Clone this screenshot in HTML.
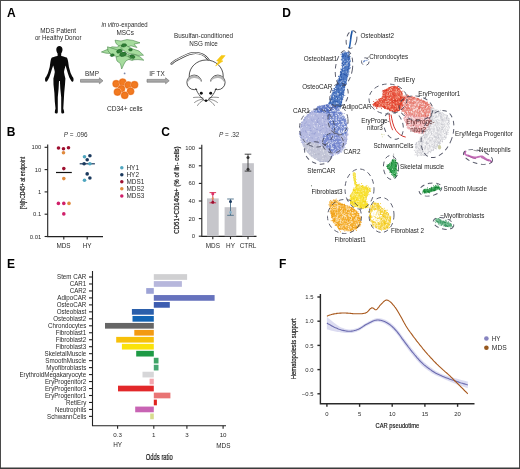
<!DOCTYPE html>
<html><head><meta charset="utf-8"><title>Figure</title>
<style>
html,body{margin:0;padding:0;background:#fff;}
body{width:520px;height:469px;overflow:hidden;}
svg{display:block;filter:blur(0.3px);}
text{font-family:"Liberation Sans",sans-serif;}
</style></head><body>
<svg width="520" height="469" viewBox="0 0 520 469" font-family="Liberation Sans, sans-serif">
<rect width="520" height="469" fill="#fff"/>
<path d="M0,0.5 H520 M0.5,0 V469 M519.5,0 V469" stroke="#4a4a4a" stroke-width="1"/>
<path d="M0,468.25 H520" stroke="#3a3a3a" stroke-width="1.5"/>
<text x="7.0" y="16.6" font-size="12" text-anchor="start" fill="#000" font-weight="bold" font-style="normal" >A</text>
<text x="6.7" y="135.6" font-size="12" text-anchor="start" fill="#000" font-weight="bold" font-style="normal" >B</text>
<text x="161.3" y="135.7" font-size="12" text-anchor="start" fill="#000" font-weight="bold" font-style="normal" >C</text>
<text x="282.3" y="16.7" font-size="12" text-anchor="start" fill="#000" font-weight="bold" font-style="normal" >D</text>
<text x="7.0" y="267.6" font-size="12" text-anchor="start" fill="#000" font-weight="bold" font-style="normal" >E</text>
<text x="279.0" y="267.6" font-size="12" text-anchor="start" fill="#000" font-weight="bold" font-style="normal" >F</text>
<text x="58.2" y="32.8" font-size="6.4" text-anchor="middle" fill="#2a2a2a" font-weight="normal" font-style="normal" >MDS Patient</text>
<text x="58.2" y="40.2" font-size="6.4" text-anchor="middle" fill="#2a2a2a" font-weight="normal" font-style="normal" textLength="46.5" lengthAdjust="spacingAndGlyphs">or Healthy Donor</text>
<text x="101.4" y="27.4" font-size="6.4" text-anchor="start" fill="#2a2a2a" font-weight="normal" font-style="normal" textLength="46.3" lengthAdjust="spacingAndGlyphs"><tspan font-style="italic">in vitro</tspan>-expanded</text>
<text x="125.2" y="34.8" font-size="6.4" text-anchor="middle" fill="#2a2a2a" font-weight="normal" font-style="normal" >MSCs</text>
<text x="92" y="75.8" font-size="6.4" text-anchor="middle" fill="#2a2a2a" font-weight="normal" font-style="normal" >BMP</text>
<text x="157" y="75.8" font-size="6.4" text-anchor="middle" fill="#2a2a2a" font-weight="normal" font-style="normal" >IF TX</text>
<text x="124.8" y="110.8" font-size="6.6" text-anchor="middle" fill="#2a2a2a" font-weight="normal" font-style="normal" >CD34+ cells</text>
<text x="203.5" y="38.4" font-size="6.3" text-anchor="middle" fill="#2a2a2a" font-weight="normal" font-style="normal" >Busulfan-conditioned</text>
<text x="203.5" y="45.8" font-size="6.3" text-anchor="middle" fill="#2a2a2a" font-weight="normal" font-style="normal" >NSG mice</text>
<path fill="#0a0a0a" d="M59.4,46.1 C61.2,46.1 62.5,47.5 62.5,49.5 C62.5,51.2 61.8,52.6 61.2,53.4 L61.2,55.9 C63,56.3 65.5,56.8 66.7,57.6 C67.5,58.3 67.8,60 68.2,62 L68.9,67 L70.6,73 L72.3,76.5 C73.2,77.3 73.8,78.5 73.5,80.5 C73.2,82 72,82.2 71.3,81 C70.6,80 70,79 69.3,77.6 L68,73.8 L66.7,69.6 L65.6,65.5 C65.2,67 64.3,69.5 64,72.1 C64.3,74.5 64.8,76.5 65.4,78.5 L65,84.5 L64.2,93 L63.7,101.6 L63.3,108.4 C63.8,110 64.3,111.5 64.2,112.8 C63.8,113.8 62,113.8 61.4,113 L61.2,111.8 L61.2,105.8 L61.2,97.3 L60.3,88.8 L59.9,81 L59,81 L58.6,88.8 L57.8,97.3 L57.8,105.8 L57.8,111.8 L57.6,113 C57,113.8 55.2,113.8 54.8,112.8 C54.7,111.5 55,110 55.5,108.4 L54.8,101.6 L54.4,93 L53.5,84.5 L53.4,78.5 C54,76.5 54.5,74.5 54.8,72.1 C54.5,69.5 53.6,67 53.2,65.5 L51.8,69.6 L50.5,73.8 L49.2,77.6 C48.6,79 48,80 47.3,81 C46.6,82.2 45.4,82 45.1,80.5 C44.8,78.5 45.4,77.3 46.3,76.5 L48,73 L49.7,67 L50.4,62 C50.8,60 51.1,58.3 51.9,57.6 C53.1,56.8 55.6,56.3 57.6,55.9 L57.6,53.4 C57,52.6 56.3,51.2 56.3,49.5 C56.3,47.5 57.6,46.1 59.4,46.1Z"/>
<path d="M80.5,79.39999999999999 L99.4,79.39999999999999 L99.4,77.8 L103,80.8 L99.4,83.8 L99.4,82.2 L80.5,82.2Z" fill="#a8a8a8" stroke="#707070" stroke-width="0.6"/>
<path d="M147,79.39999999999999 L165.6,79.39999999999999 L165.6,77.8 L169.2,80.8 L165.6,83.8 L165.6,82.2 L147,82.2Z" fill="#a8a8a8" stroke="#707070" stroke-width="0.6"/>
<path d="M115,40.2 L121,41 L127,39.6 L133,40.4 L140,42.8 L134,44.2 L137,47.5 L131,45.8 L125,47.8 L119,46 L116,43.5Z" fill="#a6dc9e" stroke="#3f7f40" stroke-width="0.55" stroke-linejoin="round"/>
<path d="M101.4,52 L107,49.6 L112,46.8 L117,47.2 L121,45 L127,48.8 L122,50.6 L118,53.4 L112,53.6 L106,53.2Z" fill="#a6dc9e" stroke="#3f7f40" stroke-width="0.55" stroke-linejoin="round"/>
<path d="M107.5,46.8 L113,48.5 L119,50.5 L125,53 L131,55.5 L136,58.2 L132.3,60.5 L127,59 L121,57.8 L117,56.6 L112,55.2 L108,51Z" fill="#a6dc9e" stroke="#3f7f40" stroke-width="0.55" stroke-linejoin="round"/>
<path d="M122.7,43.5 L128,46.5 L133,49 L139,51 L143.5,55.2 L138,55.4 L134,54.2 L129,53.6 L124,50.8 L121,47.6Z" fill="#a6dc9e" stroke="#3f7f40" stroke-width="0.55" stroke-linejoin="round"/>
<path d="M116,57 L121,55.5 L127,56 L131,58.5 L126,60.8 L124,64 L121.7,69 L120.4,63.6 L117,61Z" fill="#a6dc9e" stroke="#3f7f40" stroke-width="0.55" stroke-linejoin="round"/>
<path d="M128,56 L134,54.4 L140,56.8 L143.8,60.2 L138,59.6 L133,59.8Z" fill="#a6dc9e" stroke="#3f7f40" stroke-width="0.55" stroke-linejoin="round"/>
<ellipse cx="124" cy="45.4" rx="2.6" ry="1.5" transform="rotate(-15 124 45.4)" fill="#2f7e36" stroke="#165c1f" stroke-width="0.5"/>
<ellipse cx="119.3" cy="51.2" rx="2.8" ry="1.7" transform="rotate(-20 119.3 51.2)" fill="#2f7e36" stroke="#165c1f" stroke-width="0.5"/>
<ellipse cx="123" cy="54.3" rx="3.4" ry="2" transform="rotate(-15 123 54.3)" fill="#2f7e36" stroke="#165c1f" stroke-width="0.5"/>
<ellipse cx="132.4" cy="56.6" rx="2.6" ry="1.6" transform="rotate(20 132.4 56.6)" fill="#2f7e36" stroke="#165c1f" stroke-width="0.5"/>
<ellipse cx="112.2" cy="55.2" rx="2" ry="1.3" transform="rotate(-10 112.2 55.2)" fill="#2f7e36" stroke="#165c1f" stroke-width="0.5"/>
<ellipse cx="130.5" cy="49.8" rx="1.9" ry="1.2" transform="rotate(0 130.5 49.8)" fill="#2f7e36" stroke="#165c1f" stroke-width="0.5"/>
<circle cx="124.6" cy="73.4" r="0.9" fill="#7a86a8"/>
<circle cx="116.2" cy="83.8" r="4.0" fill="#f9b27c"/><circle cx="116.2" cy="83.8" r="3.2" fill="#f27a20" stroke="#e0600c" stroke-width="0.6"/>
<circle cx="122.7" cy="82.2" r="4.0" fill="#f9b27c"/><circle cx="122.7" cy="82.2" r="3.2" fill="#f27a20" stroke="#e0600c" stroke-width="0.6"/>
<circle cx="128.3" cy="85.1" r="4.0" fill="#f9b27c"/><circle cx="128.3" cy="85.1" r="3.2" fill="#f27a20" stroke="#e0600c" stroke-width="0.6"/>
<circle cx="134.5" cy="84.8" r="4.0" fill="#f9b27c"/><circle cx="134.5" cy="84.8" r="3.2" fill="#f27a20" stroke="#e0600c" stroke-width="0.6"/>
<circle cx="121.4" cy="88.7" r="4.0" fill="#f9b27c"/><circle cx="121.4" cy="88.7" r="3.2" fill="#f27a20" stroke="#e0600c" stroke-width="0.6"/>
<circle cx="117.5" cy="92" r="4.0" fill="#f9b27c"/><circle cx="117.5" cy="92" r="3.2" fill="#f27a20" stroke="#e0600c" stroke-width="0.6"/>
<circle cx="130.5" cy="91.3" r="4.0" fill="#f9b27c"/><circle cx="130.5" cy="91.3" r="3.2" fill="#f27a20" stroke="#e0600c" stroke-width="0.6"/>
<circle cx="124.7" cy="95.3" r="4.0" fill="#f9b27c"/><circle cx="124.7" cy="95.3" r="3.2" fill="#f27a20" stroke="#e0600c" stroke-width="0.6"/>
<path d="M171.5,63.8 C174,61 177,59.5 180,58.2 C184,56 188,54 192,53.3 C197,52.5 202,53.5 205.5,56.5 C207,57.8 208,59 208.6,60" stroke="#3a3a3a" stroke-width="2.2" fill="none" stroke-linecap="round"/>
<path d="M171.5,63.8 C174,61 177,59.5 180,58.2 C184,56 188,54 192,53.3 C197,52.5 202,53.5 205.5,56.5 C207,57.8 208,59 208.6,60" stroke="#fff" stroke-width="1.0" fill="none" stroke-linecap="round"/>
<g stroke="#1a1a1a" stroke-width="0.75" fill="#fff">
<ellipse cx="206.2" cy="76" rx="17" ry="16"/>
<circle cx="194.2" cy="82.4" r="7.3"/>
<circle cx="217.8" cy="82.4" r="7.3"/>
<path d="M195.5,84 C197,92 202,99 206,101.6 C210,99 215,92 216.5,84 C212,80 200,80 195.5,84Z" stroke="none"/>
<path d="M195.6,88.2 C198,94.5 202.5,99.5 206,101.6 C209.5,99.5 214,94.5 216.4,88.2" fill="none"/>
</g>
<path d="M187.6,83 C187.2,77 191.5,75.3 194.5,75.4 C198.5,75.6 201,78.5 201.2,81.5 C199,78.5 196,77.8 193.8,78 C190.5,78.3 188.5,80.5 187.6,83Z" fill="#b5b5b5"/>
<path d="M224.4,83 C224.8,77 220.5,75.3 217.5,75.4 C213.5,75.6 211,78.5 210.8,81.5 C213,78.5 216,77.8 218.2,78 C221.5,78.3 223.5,80.5 224.4,83Z" fill="#b5b5b5"/>
<circle cx="201.3" cy="93.3" r="1.45" fill="#111"/><circle cx="210.7" cy="93.3" r="1.45" fill="#111"/><ellipse cx="206" cy="100.6" rx="1.5" ry="1.1" fill="#111"/>
<g stroke="#222" stroke-width="0.5" fill="none" stroke-linecap="round"><path d="M203,98 C200,97 197,97 193.5,97.5"/><path d="M203,99 C200,99.5 197,100.5 194.5,102.5"/><path d="M203.5,100 C201,101.5 199,103 197.5,105.5"/><path d="M209,98 C212,97 215,97 218.5,97.5"/><path d="M209,99 C212,99.5 215,100.5 217.5,102.5"/><path d="M208.5,100 C211,101.5 213,103 214.5,105.5"/></g>
<path d="M225.2,55.6 L221.2,60.4 L223,61 L215.6,66 L218.6,61.4 L216.6,60.8 L221.4,55.4Z" fill="#f6c714" stroke="#f6c714" stroke-width="0.5" stroke-linejoin="round"/>
<g stroke="#222" stroke-width="1.1" fill="none">
<path d="M47.7,144.5 V236.6 H103"/>
<path d="M44.6,147.3 H47.7"/>
<path d="M44.6,169.6 H47.7"/>
<path d="M44.6,191.9 H47.7"/>
<path d="M44.6,214.2 H47.7"/>
<path d="M44.6,236.5 H47.7"/>
<path d="M63.8,236.6 V239.5"/>
<path d="M87.2,236.6 V239.5"/>
</g>
<text x="41.3" y="149.3" font-size="5.9" text-anchor="end" fill="#2a2a2a" font-weight="normal" font-style="normal" >100</text>
<text x="41.3" y="171.6" font-size="5.9" text-anchor="end" fill="#2a2a2a" font-weight="normal" font-style="normal" >10</text>
<text x="41.3" y="193.9" font-size="5.9" text-anchor="end" fill="#2a2a2a" font-weight="normal" font-style="normal" >1</text>
<text x="41.3" y="216.2" font-size="5.9" text-anchor="end" fill="#2a2a2a" font-weight="normal" font-style="normal" >0.1</text>
<text x="41.3" y="238.5" font-size="5.9" text-anchor="end" fill="#2a2a2a" font-weight="normal" font-style="normal" >0.01</text>
<text x="63.5" y="247.9" font-size="6.4" text-anchor="middle" fill="#2a2a2a" font-weight="normal" font-style="normal" >MDS</text>
<text x="87.2" y="247.9" font-size="6.4" text-anchor="middle" fill="#2a2a2a" font-weight="normal" font-style="normal" >HY</text>
<text transform="translate(25.0,182.9) rotate(-90)" font-size="6.9" text-anchor="middle" fill="#1a1a1a" stroke="#1a1a1a" stroke-width="0.2" textLength="52" lengthAdjust="spacingAndGlyphs">[%]hCD45+ at endpoint</text>
<text x="75.7" y="136.6" font-size="6.4" text-anchor="middle" fill="#333" font-weight="normal" font-style="normal" ><tspan font-style="italic">P</tspan> = .096</text>
<path d="M56,172.5 H71.8" stroke="#111" stroke-width="1.2"/>
<path d="M79.7,163.8 H94.9" stroke="#1b3a5e" stroke-width="1.2"/>
<circle cx="58.5" cy="148" r="1.8" fill="#9e1030"/>
<circle cx="63.5" cy="148.8" r="1.8" fill="#9e1030"/>
<circle cx="68.5" cy="147.8" r="1.8" fill="#9e1030"/>
<circle cx="63.5" cy="152.7" r="1.8" fill="#e08a3c"/>
<circle cx="63.8" cy="168.6" r="1.8" fill="#9e1030"/>
<circle cx="63.8" cy="178.6" r="1.8" fill="#e08a3c"/>
<circle cx="58.4" cy="203.4" r="1.8" fill="#d0206a"/>
<circle cx="63.8" cy="203.4" r="1.8" fill="#d0206a"/>
<circle cx="69" cy="203.4" r="1.8" fill="#e08a3c"/>
<circle cx="63.8" cy="213.9" r="1.8" fill="#d0206a"/>
<circle cx="84.5" cy="156.8" r="1.8" fill="#4fa6bf"/>
<circle cx="89.9" cy="155.8" r="1.8" fill="#1b3a5e"/>
<circle cx="87.2" cy="159.8" r="1.8" fill="#1b3a5e"/>
<circle cx="84.1" cy="163.8" r="1.8" fill="#1b3a5e"/>
<circle cx="89.9" cy="163.8" r="1.8" fill="#4fa6bf"/>
<circle cx="87.2" cy="173.9" r="1.8" fill="#1b3a5e"/>
<circle cx="89.9" cy="178" r="1.8" fill="#1b3a5e"/>
<circle cx="84.5" cy="180.3" r="1.8" fill="#4fa6bf"/>
<circle cx="121.8" cy="167.70" r="1.75" fill="#4fa6bf"/>
<text x="126.5" y="169.89999999999998" font-size="6.4" text-anchor="start" fill="#2a2a2a" font-weight="normal" font-style="normal" >HY1</text>
<circle cx="121.8" cy="174.75" r="1.75" fill="#1b3a5e"/>
<text x="126.5" y="176.95" font-size="6.4" text-anchor="start" fill="#2a2a2a" font-weight="normal" font-style="normal" >HY2</text>
<circle cx="121.8" cy="181.80" r="1.75" fill="#9e1030"/>
<text x="126.5" y="183.99999999999997" font-size="6.4" text-anchor="start" fill="#2a2a2a" font-weight="normal" font-style="normal" >MDS1</text>
<circle cx="121.8" cy="188.85" r="1.75" fill="#e08a3c"/>
<text x="126.5" y="191.04999999999998" font-size="6.4" text-anchor="start" fill="#2a2a2a" font-weight="normal" font-style="normal" >MDS2</text>
<circle cx="121.8" cy="195.90" r="1.75" fill="#d0206a"/>
<text x="126.5" y="198.09999999999997" font-size="6.4" text-anchor="start" fill="#2a2a2a" font-weight="normal" font-style="normal" >MDS3</text>
<g stroke="#222" stroke-width="1.1" fill="none">
<path d="M201.8,144.8 V236.4 H256.5"/>
<path d="M198.8,236.2 H201.8"/>
<path d="M198.8,218.6 H201.8"/>
<path d="M198.8,201.0 H201.8"/>
<path d="M198.8,183.4 H201.8"/>
<path d="M198.8,165.8 H201.8"/>
<path d="M198.8,148.2 H201.8"/>
<path d="M212.8,236.4 V239.2"/>
<path d="M230.5,236.4 V239.2"/>
<path d="M248,236.4 V239.2"/>
</g>
<text x="195.1" y="238.2" font-size="5.9" text-anchor="end" fill="#2a2a2a" font-weight="normal" font-style="normal" >0</text>
<text x="195.1" y="220.6" font-size="5.9" text-anchor="end" fill="#2a2a2a" font-weight="normal" font-style="normal" >20</text>
<text x="195.1" y="203.0" font-size="5.9" text-anchor="end" fill="#2a2a2a" font-weight="normal" font-style="normal" >40</text>
<text x="195.1" y="185.39999999999998" font-size="5.9" text-anchor="end" fill="#2a2a2a" font-weight="normal" font-style="normal" >60</text>
<text x="195.1" y="167.79999999999998" font-size="5.9" text-anchor="end" fill="#2a2a2a" font-weight="normal" font-style="normal" >80</text>
<text x="195.1" y="150.2" font-size="5.9" text-anchor="end" fill="#2a2a2a" font-weight="normal" font-style="normal" >100</text>
<text x="212.8" y="247.9" font-size="6.4" text-anchor="middle" fill="#2a2a2a" font-weight="normal" font-style="normal" >MDS</text>
<text x="230.5" y="247.9" font-size="6.4" text-anchor="middle" fill="#2a2a2a" font-weight="normal" font-style="normal" >HY</text>
<text x="248" y="247.9" font-size="6.4" text-anchor="middle" fill="#2a2a2a" font-weight="normal" font-style="normal" >CTRL</text>
<text transform="translate(178.8,190.1) rotate(-90)" font-size="6.9" text-anchor="middle" fill="#1a1a1a" stroke="#1a1a1a" stroke-width="0.2" textLength="87.5" lengthAdjust="spacingAndGlyphs">CD51+CD140a+ (% of lin- cells)</text>
<text x="229.2" y="136.8" font-size="6.4" text-anchor="middle" fill="#333" font-weight="normal" font-style="normal" ><tspan font-style="italic">P</tspan> = .32</text>
<rect x="207" y="198.4" width="11.7" height="37.8" fill="#c6c6cb"/>
<rect x="224.6" y="207.2" width="11.7" height="29.0" fill="#c6c6cb"/>
<rect x="242.2" y="163.2" width="11.7" height="73.0" fill="#c6c6cb"/>
<g stroke="#d02848" stroke-width="0.9"><path d="M212.8,192.6 V202.8"/><path d="M209.5,192.6 H216.10000000000002"/><path d="M209.5,202.8 H216.10000000000002"/></g>
<g stroke="#4a6e88" stroke-width="0.9"><path d="M230.5,199.0 V215.3"/><path d="M227.2,199.0 H233.8"/><path d="M227.2,215.3 H233.8"/></g>
<g stroke="#333" stroke-width="0.9"><path d="M248,154.2 V171.1"/><path d="M244.7,154.2 H251.3"/><path d="M244.7,171.1 H251.3"/></g>
<circle cx="212.8" cy="193.8" r="1.5" fill="#e0306a"/><circle cx="212.8" cy="202.2" r="1.5" fill="#9c1030"/><circle cx="212.8" cy="198.4" r="1.2" fill="#e8905a" opacity="0.8"/>
<circle cx="230.5" cy="201.4" r="1.5" fill="#1b3a5e"/><circle cx="230.5" cy="212.4" r="1.4" fill="#8ab4cc"/>
<circle cx="248" cy="157.4" r="1.5" fill="#333"/><circle cx="248" cy="169.3" r="1.5" fill="#333"/>
<path d="M352,31.2 C351.6,34 351,36 350.9,38 C350.6,40 350.3,43 349.5,47.4" stroke="#2462b4" stroke-width="1.6" fill="none" stroke-linecap="round"/>
<path d="M351.8,32 C351.2,35 350.6,37 350.5,39" stroke="#1a4e98" stroke-width="0.8" fill="none"/>
<polygon points="342.1,53.0 348.4,52.4 349.9,58.8 349.7,65.7 348.4,72.7 347.0,79.6 344.9,86.5 343.5,93.4 342.1,100.3 340.7,107.2 327.6,107.2 330.4,100.3 332.4,93.4 335.9,86.5 338.7,79.6 340.7,72.7 342.8,65.7 342.1,58.8" fill="#3264ba" opacity="0.85" stroke="#3264ba" stroke-width="0.5" stroke-linejoin="round"/>
<path d="M337.7 83.1h0M338.9 84.6h0M341.6 95.9h0M343.1 54.7h0M342.2 86.1h0M337.4 98.6h0M339.2 87.5h0M338.7 88.7h0M344.7 74.3h0M346.5 73.6h0M345.0 67.2h0M345.4 62.1h0M340.1 76.9h0M334.4 100.9h0M329.8 106.6h0M344.8 70.4h0M340.4 99.9h0M332.0 104.5h0M328.5 105.2h0M333.3 97.5h0M340.1 99.1h0M348.1 63.6h0M335.7 101.2h0M343.0 84.4h0M338.4 92.4h0M334.7 107.2h0M335.4 89.9h0M336.9 95.7h0M341.5 73.4h0M340.6 85.8h0M343.8 73.7h0M344.0 84.2h0M337.4 98.3h0M343.2 79.6h0M341.3 102.8h0M337.5 101.3h0M334.9 88.9h0M347.2 73.5h0M341.6 79.5h0M334.6 98.4h0M347.1 54.7h0M343.4 83.7h0M334.5 95.8h0M346.1 65.4h0M341.6 76.9h0M341.6 88.3h0M342.9 63.3h0M343.5 62.2h0M343.2 80.9h0M341.3 93.8h0M336.4 95.8h0M347.8 57.2h0M341.5 102.3h0M341.9 91.7h0M332.4 101.7h0M339.6 95.7h0M334.7 102.3h0M346.7 71.5h0M339.9 94.5h0M345.6 55.9h0M345.4 61.9h0M335.1 95.6h0M339.1 92.1h0M348.8 57.1h0M334.1 92.3h0M341.8 81.0h0M332.2 99.0h0M339.6 80.0h0M336.5 96.3h0M340.2 79.3h0M343.0 56.0h0M348.2 59.5h0M345.0 53.6h0M342.9 70.1h0M341.8 81.4h0M346.7 65.1h0M347.7 69.7h0M334.6 103.0h0M332.5 107.1h0M347.4 59.7h0M346.2 75.5h0M345.2 59.3h0M336.6 89.9h0M349.2 58.7h0M338.9 93.9h0M338.8 90.0h0M339.9 80.6h0M348.3 57.6h0M329.0 104.5h0M337.9 94.3h0M344.1 74.6h0M341.6 74.6h0M341.0 80.0h0M333.4 102.3h0M345.8 74.6h0M343.1 94.4h0M344.7 74.6h0M343.7 56.3h0M341.8 86.6h0M332.8 104.2h0M342.5 70.9h0M342.3 83.6h0M343.2 94.1h0M341.3 92.9h0M333.2 102.0h0M339.9 80.2h0M345.7 56.6h0M340.9 94.0h0M339.3 85.2h0M342.2 83.1h0M333.9 91.7h0M336.3 101.6h0M344.3 55.1h0M349.3 65.8h0M339.3 103.8h0M343.7 78.1h0M341.5 77.4h0M337.5 89.0h0M340.6 75.4h0M344.9 81.5h0M344.0 65.5h0M330.1 101.3h0M342.9 83.4h0" stroke="#2450a4" stroke-width="0.9" stroke-linecap="round" fill="none" opacity="1.0"/>
<path d="M345.0 51.8h0M343.3 54.8h0M348.0 52.3h0M342.4 53.7h0M346.7 53.2h0M343.5 53.5h0M345.1 52.2h0M349.3 56.1h0M349.7 56.9h0M348.9 52.3h0M349.7 58.0h0M349.0 53.4h0M350.0 56.5h0M349.2 54.3h0M349.6 62.0h0M350.0 65.0h0M348.7 62.8h0M349.9 60.6h0M349.7 60.0h0M349.7 59.8h0M350.3 61.3h0M349.5 64.1h0M347.4 70.0h0M349.1 71.9h0M348.4 71.9h0M350.5 67.9h0M348.9 67.9h0M348.7 68.7h0M348.3 66.6h0M349.5 68.7h0M348.2 72.5h0M348.8 74.8h0M346.0 75.7h0M347.6 77.0h0M347.7 76.2h0M348.2 71.8h0M348.0 73.0h0M347.0 77.4h0M346.6 80.3h0M344.9 85.3h0M344.6 85.6h0M345.7 82.2h0M344.0 86.6h0M346.4 83.2h0M346.6 84.2h0M344.6 83.9h0M343.1 92.4h0M344.6 85.4h0M344.6 89.5h0M343.8 91.2h0M344.7 87.2h0M344.1 90.5h0M343.9 87.2h0M344.0 92.9h0M343.3 95.2h0M342.1 98.1h0M343.2 95.1h0M342.1 99.4h0M341.8 99.1h0M342.8 99.2h0M343.5 97.0h0M344.8 95.4h0M340.3 106.4h0M341.1 106.0h0M341.2 104.9h0M340.6 104.5h0M340.8 105.0h0M341.6 101.9h0M339.9 106.2h0M340.6 108.0h0M338.7 107.2h0M330.7 106.1h0M339.5 108.3h0M338.6 107.3h0M327.0 106.5h0M336.9 106.5h0M329.8 107.9h0M337.1 107.0h0M338.9 106.7h0M337.2 107.5h0M334.4 106.6h0M332.3 107.6h0M335.9 106.9h0M332.8 107.3h0M331.5 108.1h0M331.0 104.2h0M330.1 102.6h0M327.8 105.8h0M328.1 105.7h0M329.4 103.1h0M328.8 103.6h0M329.1 102.7h0M330.2 101.7h0M330.1 98.7h0M329.7 99.8h0M332.0 96.5h0M331.2 99.7h0M331.2 99.4h0M330.7 95.8h0M331.6 95.0h0M331.9 97.5h0M336.1 88.4h0M334.6 88.8h0M333.0 92.0h0M332.2 93.2h0M335.6 87.1h0M333.1 90.8h0M333.8 90.3h0M332.4 90.4h0M333.9 88.5h0M337.4 84.8h0M336.9 85.4h0M337.3 81.9h0M338.0 80.7h0M336.6 85.6h0M337.6 80.0h0M337.3 84.2h0M339.1 78.8h0M339.2 78.2h0M340.5 74.3h0M340.7 74.7h0M339.3 79.2h0M341.6 72.4h0M338.8 76.5h0M338.4 76.3h0M339.0 80.2h0M340.3 72.3h0M340.5 71.4h0M341.4 69.6h0M340.6 72.1h0M342.1 65.5h0M340.8 69.1h0M342.3 66.6h0M343.5 64.6h0M341.7 63.2h0M341.3 59.3h0M343.0 62.4h0M342.5 63.8h0M341.3 60.0h0M342.4 63.4h0M341.9 65.1h0M343.5 63.3h0M342.1 56.3h0M342.1 56.8h0M343.1 53.3h0M341.0 54.4h0M342.1 56.6h0M343.1 54.3h0" stroke="#2450a4" stroke-width="0.9" stroke-linecap="round" fill="none" opacity="1.0"/>
<path d="M334.2 103.0h0M347.6 63.1h0M346.3 71.8h0M331.9 100.6h0M343.8 69.6h0M343.5 59.8h0M343.4 63.2h0M342.4 95.7h0M335.9 88.7h0M329.6 106.3h0M333.2 96.4h0M344.5 65.9h0M331.8 101.6h0M337.9 93.5h0M336.2 103.3h0M340.0 87.7h0M335.6 88.5h0M345.1 80.7h0M338.9 98.7h0M342.9 80.9h0M348.8 61.9h0M345.0 61.5h0M337.4 94.8h0M340.9 91.6h0M340.4 100.2h0M333.5 96.2h0M340.3 82.2h0M345.3 65.4h0M341.5 81.2h0M338.5 94.1h0M349.6 60.3h0M337.8 93.2h0M347.4 60.2h0M328.4 107.0h0M337.9 103.5h0M335.3 90.5h0M347.4 77.8h0M336.4 98.6h0M336.1 95.2h0M346.8 63.6h0M343.0 72.3h0M336.4 103.0h0M343.5 67.1h0M348.5 72.1h0M347.8 53.5h0M334.9 94.6h0M343.4 66.7h0M343.8 88.9h0M333.9 91.5h0M346.9 64.8h0M340.2 96.7h0M347.0 65.3h0M343.2 82.7h0M343.2 53.7h0M340.7 78.1h0M341.6 86.4h0M333.8 97.9h0M347.2 73.3h0M347.9 54.5h0" stroke="#ffffff" stroke-width="0.8" stroke-linecap="round" fill="none" opacity="1.0"/>
<path d="M364.0 61.6h0M364.6 61.1h0M367.0 60.3h0M364.2 60.6h0M365.9 60.6h0M363.5 61.8h0" stroke="#3c6ac0" stroke-width="0.9" stroke-linecap="round" fill="none" opacity="1.0"/>
<polygon points="321.0,106.3 328.8,105.0 336.5,107.6 341.6,112.7 346.0,120.4 347.4,130.6 346.7,139.6 344.2,147.3 339.0,153.7 333.9,153.7 331.3,158.8 327.5,161.6 319.8,161.6 313.4,156.3 307.0,149.9 301.8,142.2 300.0,133.2 301.2,124.2 305.7,116.5 313.4,110.1" fill="#aab0dc" opacity="0.85" stroke="#aab0dc" stroke-width="0.5" stroke-linejoin="round"/>
<path d="M318.7 118.5h0M323.4 141.8h0M326.0 140.3h0M326.6 152.0h0M345.9 123.9h0M316.4 155.2h0M314.9 145.5h0M333.0 143.9h0M307.6 140.2h0M323.3 136.9h0M317.5 121.2h0M335.5 135.2h0M311.2 119.1h0M315.4 115.1h0M324.4 112.1h0M304.8 144.9h0M305.3 130.6h0M336.6 132.2h0M312.0 133.7h0M337.8 127.2h0M333.9 119.3h0M333.9 123.5h0M315.8 148.0h0M339.9 151.9h0M326.9 128.8h0M333.5 140.3h0M339.4 150.4h0M305.9 126.3h0M331.7 118.1h0M327.8 158.3h0M332.6 128.7h0M329.9 127.5h0M313.6 146.4h0M325.7 132.3h0M317.7 122.5h0M337.9 152.5h0M313.4 127.2h0M329.3 148.3h0M346.5 127.0h0M332.9 135.9h0M337.9 113.3h0M344.3 119.2h0M323.1 111.8h0M326.8 113.1h0M329.6 120.5h0M310.8 132.3h0M317.3 119.7h0M342.3 122.5h0M322.9 161.4h0M323.0 128.5h0M338.3 127.4h0M302.7 136.2h0M331.1 140.3h0M321.0 152.2h0M334.4 115.0h0M317.0 147.7h0M314.7 134.1h0M325.0 150.9h0M337.6 146.6h0M318.9 150.5h0M339.2 148.5h0M345.0 127.8h0M333.4 119.2h0M327.3 117.9h0M318.4 125.9h0M331.1 150.9h0M317.3 141.1h0M316.8 120.8h0M342.9 123.2h0M304.5 123.9h0M335.2 117.0h0M335.2 135.9h0M332.2 115.0h0M316.6 129.4h0M300.4 133.4h0M319.1 123.2h0M325.5 158.9h0M315.2 147.7h0M320.4 159.5h0M310.4 128.1h0M333.5 115.1h0M313.0 143.3h0M344.9 123.2h0M308.7 125.2h0M330.1 126.4h0M330.5 117.0h0M329.2 155.2h0M340.6 140.6h0M323.9 137.1h0M332.7 130.7h0M331.5 128.7h0M318.2 118.0h0M328.5 137.4h0M324.4 106.8h0M329.7 130.3h0M328.1 138.7h0M322.2 161.2h0M335.0 122.7h0M319.1 154.1h0M323.3 118.3h0M339.8 141.7h0M337.8 134.0h0M341.2 145.3h0M311.9 150.7h0M321.5 135.4h0M341.0 116.1h0M313.3 141.4h0M303.5 136.4h0M337.3 132.8h0M311.5 150.3h0M340.5 148.6h0M326.0 156.3h0M337.8 113.6h0M317.3 110.7h0M301.7 124.6h0M318.4 153.1h0M329.2 156.0h0M309.8 140.6h0M341.5 146.2h0M309.3 142.8h0M316.1 122.8h0M329.8 120.8h0M328.6 144.3h0M332.9 131.4h0M344.6 139.5h0M316.9 116.1h0M334.9 125.4h0M314.7 128.1h0M306.9 140.7h0M320.1 151.4h0M319.4 130.9h0M324.0 158.3h0M316.4 144.8h0M311.1 137.8h0M313.5 154.4h0M313.6 153.4h0M332.1 130.7h0M344.3 126.9h0M335.2 139.0h0M321.3 108.6h0M319.9 120.9h0M320.9 159.0h0M313.9 144.3h0M331.9 118.9h0M319.5 112.5h0M342.4 119.2h0M319.9 124.3h0M338.9 153.1h0M328.0 135.9h0M304.2 125.6h0M317.8 145.9h0M331.7 124.5h0M322.2 125.5h0M322.0 122.9h0M331.8 139.3h0M339.3 141.8h0M303.2 131.2h0M319.0 142.1h0M309.9 125.9h0M306.8 127.3h0M335.2 109.7h0M307.9 141.7h0M329.5 147.0h0M312.0 150.9h0M334.6 148.9h0M305.7 131.5h0M301.1 124.9h0M325.4 135.2h0M314.3 133.7h0M305.9 137.1h0M324.3 121.6h0M336.9 119.0h0M319.6 108.1h0M310.3 130.6h0M326.5 131.0h0M340.3 113.8h0M346.0 134.7h0M319.3 139.7h0M334.8 145.3h0M307.4 135.1h0M330.5 153.0h0M302.2 128.6h0M315.6 132.7h0M331.0 155.2h0M344.9 137.1h0M323.7 156.2h0M318.7 121.9h0M335.0 119.6h0M317.4 129.3h0M322.6 125.3h0M320.4 130.5h0M302.9 134.9h0M326.0 127.6h0M317.6 122.8h0M322.9 118.0h0M335.5 132.6h0M328.1 159.4h0M317.3 138.9h0M317.5 122.0h0M328.9 138.4h0M314.9 133.2h0M324.5 147.7h0M311.9 120.3h0M337.7 129.1h0M340.8 127.8h0M313.5 143.5h0M339.4 123.6h0M315.0 151.4h0M337.4 141.4h0M302.3 140.4h0M326.2 157.5h0M330.3 106.3h0M327.5 105.3h0M334.9 128.7h0M337.0 129.9h0M335.6 126.4h0M321.2 129.7h0M305.6 123.1h0M334.8 109.0h0M331.6 136.0h0M326.6 157.2h0M310.0 128.5h0M325.4 152.5h0M322.4 106.8h0M320.5 126.4h0M323.4 144.0h0M318.4 149.1h0M307.9 138.2h0M309.6 124.6h0M307.8 124.8h0M328.0 134.4h0M318.4 137.5h0M339.9 125.3h0M327.7 132.2h0M333.1 118.2h0M312.4 146.3h0M327.3 119.5h0M317.9 145.6h0M320.5 140.0h0M326.5 160.2h0M343.1 130.8h0M323.1 118.1h0M335.7 110.8h0M314.5 153.0h0M326.9 136.2h0M315.8 113.6h0M338.2 110.5h0M337.2 117.4h0M309.4 135.3h0M328.9 111.8h0M336.3 138.0h0M332.7 125.6h0M313.8 153.5h0M334.5 120.0h0M325.5 119.4h0M313.9 119.3h0M306.2 132.4h0M312.9 121.1h0M313.2 133.8h0M341.4 114.1h0M328.9 135.8h0M334.8 135.3h0M331.3 157.0h0M336.7 119.7h0M317.2 149.6h0M311.1 130.6h0M317.6 146.3h0M344.7 133.6h0M326.8 124.7h0M331.1 109.1h0M326.8 111.8h0M331.6 108.8h0M301.4 137.3h0M340.5 149.4h0M324.7 109.4h0M325.0 115.4h0M325.0 125.0h0M323.7 116.2h0M333.4 128.6h0M323.0 109.5h0M323.1 136.6h0M346.1 136.8h0M306.4 122.0h0M315.9 144.7h0M301.0 132.7h0M328.0 143.8h0M329.0 139.7h0M324.6 159.3h0M339.3 144.0h0M324.6 137.8h0M335.9 150.7h0M339.5 128.1h0M315.9 124.6h0M312.4 138.1h0M324.9 124.0h0M332.0 130.7h0M312.0 132.1h0M337.1 123.8h0M311.3 142.0h0" stroke="#959dd2" stroke-width="0.9" stroke-linecap="round" fill="none" opacity="1.0"/>
<path d="M322.5 105.9h0M328.0 105.6h0M322.8 106.9h0M326.5 104.6h0M321.7 105.7h0M320.9 107.1h0M322.9 107.0h0M328.4 105.3h0M327.3 104.7h0M334.5 107.5h0M333.3 105.7h0M335.9 107.2h0M333.2 106.6h0M330.3 106.8h0M336.8 107.2h0M336.7 108.3h0M336.2 107.8h0M334.9 106.0h0M340.7 112.6h0M336.9 109.9h0M337.1 108.6h0M336.6 108.3h0M336.3 108.1h0M339.5 109.6h0M341.8 112.7h0M336.5 109.1h0M345.3 119.8h0M342.5 115.0h0M345.9 118.7h0M344.7 116.7h0M344.3 113.5h0M341.8 112.2h0M342.1 113.5h0M344.9 118.5h0M342.8 113.6h0M344.0 117.8h0M346.0 120.7h0M345.9 122.6h0M346.2 124.8h0M347.2 123.4h0M345.8 124.5h0M346.9 123.5h0M348.2 128.8h0M344.2 121.9h0M346.9 124.3h0M346.0 122.6h0M347.3 130.4h0M346.4 128.1h0M347.8 134.7h0M348.0 134.0h0M346.3 132.6h0M347.8 135.2h0M345.9 133.5h0M346.9 133.2h0M347.0 139.1h0M346.8 139.3h0M346.3 135.5h0M345.9 139.2h0M346.4 141.1h0M346.0 142.7h0M345.3 144.2h0M343.9 145.5h0M345.4 143.9h0M346.5 140.4h0M346.2 141.4h0M344.7 144.6h0M346.6 143.4h0M341.8 151.8h0M345.0 147.8h0M343.0 150.3h0M341.2 152.1h0M343.5 147.9h0M339.8 151.6h0M338.1 152.2h0M340.2 151.4h0M342.8 149.6h0M335.1 154.7h0M334.8 152.9h0M337.3 154.1h0M335.0 152.2h0M338.7 153.0h0M338.4 153.4h0M331.5 158.0h0M332.4 155.0h0M334.4 153.2h0M332.7 155.6h0M332.9 154.5h0M333.3 155.5h0M328.3 159.5h0M328.3 161.0h0M328.7 159.7h0M329.9 159.6h0M327.5 160.6h0M320.7 161.3h0M324.2 161.6h0M326.1 161.4h0M325.8 161.4h0M321.9 161.0h0M320.9 160.7h0M323.7 161.7h0M325.3 161.2h0M327.6 161.8h0M315.0 158.1h0M316.0 158.8h0M316.6 158.6h0M316.9 158.7h0M319.7 161.2h0M320.3 161.8h0M318.2 160.2h0M313.4 157.2h0M318.1 159.9h0M311.7 155.7h0M309.5 153.4h0M307.7 151.9h0M308.2 152.0h0M310.0 153.7h0M308.9 152.6h0M307.7 151.6h0M307.1 150.9h0M308.9 150.4h0M310.3 152.7h0M305.2 145.9h0M303.2 144.2h0M303.8 146.1h0M304.8 145.7h0M304.0 144.5h0M303.0 145.0h0M304.1 149.5h0M306.2 148.3h0M304.5 144.2h0M304.0 146.3h0M303.0 143.1h0M301.1 139.1h0M301.2 137.3h0M299.9 136.2h0M300.0 134.5h0M300.4 137.5h0M301.5 135.9h0M301.5 138.9h0M300.9 140.4h0M301.8 137.4h0M299.4 134.6h0M301.3 142.5h0M301.2 126.4h0M299.8 131.4h0M299.3 133.7h0M299.6 133.2h0M301.1 125.2h0M301.2 132.8h0M300.8 127.4h0M302.1 127.2h0M301.3 126.5h0M300.1 128.1h0M301.6 122.6h0M303.5 120.0h0M304.4 119.5h0M301.9 122.2h0M305.1 117.4h0M303.9 119.5h0M304.6 119.6h0M304.7 120.2h0M305.2 118.1h0M302.2 122.2h0M312.3 112.6h0M309.6 112.9h0M304.8 117.8h0M310.5 112.5h0M307.6 116.0h0M306.9 116.4h0M310.7 112.8h0M307.3 114.4h0M308.5 114.8h0M308.3 114.9h0M310.2 113.1h0M311.4 111.2h0M316.7 108.2h0M317.6 106.8h0M316.6 108.6h0M316.4 108.4h0M317.8 106.6h0M315.7 109.3h0M313.9 109.0h0M316.1 110.3h0M319.3 105.9h0M318.4 107.5h0" stroke="#959dd2" stroke-width="0.9" stroke-linecap="round" fill="none" opacity="1.0"/>
<path d="M326.2 154.8h0M325.8 134.1h0M314.7 153.8h0M324.5 161.1h0M318.5 141.2h0M305.2 136.8h0M344.5 129.6h0M336.1 138.5h0M327.6 114.8h0M322.0 156.0h0M332.0 117.3h0M321.2 135.8h0M316.0 137.7h0M329.9 106.0h0M310.4 142.2h0M336.1 123.9h0M345.4 136.6h0M304.8 141.0h0M312.4 151.1h0M334.3 147.9h0M337.8 113.0h0M307.8 131.8h0M345.4 123.2h0M312.3 151.9h0M308.7 140.9h0M329.2 157.9h0M302.1 136.9h0M318.1 151.6h0M312.0 145.5h0M308.8 133.0h0M332.0 108.7h0M308.8 118.4h0M313.7 152.8h0M331.7 140.5h0M318.2 145.6h0M323.4 108.3h0M323.3 126.7h0M325.2 107.8h0M317.6 123.7h0M307.0 138.5h0M323.7 133.3h0M336.3 137.0h0M311.3 115.7h0M334.3 109.4h0M309.0 131.5h0M340.0 140.1h0M335.4 148.1h0M334.2 107.9h0M339.1 113.4h0M318.1 109.9h0M328.5 156.9h0M313.6 115.8h0M330.4 114.5h0M308.0 135.3h0M317.8 113.5h0M326.9 133.8h0M318.4 131.8h0M301.9 139.8h0M309.2 124.0h0M327.9 127.2h0M325.7 158.2h0M306.3 126.7h0M333.6 126.1h0M313.9 147.5h0M337.2 144.6h0M318.6 153.3h0M336.3 111.4h0M341.0 125.5h0M328.7 159.3h0M342.6 137.7h0M339.8 142.1h0M319.1 136.9h0M302.9 140.6h0M313.3 123.3h0M328.8 115.8h0M321.2 153.5h0M317.3 144.3h0M309.4 136.5h0M315.6 120.6h0M311.0 132.3h0M334.3 153.5h0M344.3 128.8h0M315.1 127.5h0M314.8 147.0h0M321.9 143.8h0M307.2 149.3h0M329.2 114.2h0M301.7 128.4h0M308.7 146.4h0M327.1 143.2h0M321.8 151.7h0M332.4 136.0h0M340.6 126.1h0M305.4 141.3h0M303.0 135.1h0M306.1 139.2h0M339.1 124.5h0M305.7 143.0h0M326.3 137.9h0M340.9 143.3h0M336.7 140.8h0M322.6 119.9h0M328.5 133.8h0M324.2 108.3h0M306.2 139.4h0M337.6 121.4h0M321.6 133.6h0M338.1 127.3h0M343.6 132.4h0M318.9 132.2h0M302.2 127.6h0M303.8 143.4h0M320.1 139.1h0M336.2 130.2h0M314.0 125.8h0M342.1 117.1h0M322.9 112.5h0M335.5 108.6h0M332.0 117.1h0M321.1 139.2h0M315.9 113.1h0M337.0 111.2h0M301.8 141.9h0M322.3 156.0h0M337.5 116.7h0M302.1 139.2h0M322.3 122.0h0M343.5 116.8h0M330.5 109.2h0M329.3 123.1h0M323.9 112.9h0M325.9 158.8h0M341.0 119.1h0M326.2 123.0h0M308.0 147.1h0M336.0 124.1h0M319.9 144.4h0M334.5 131.2h0M323.5 141.5h0M317.3 125.9h0M328.7 112.3h0M333.3 138.8h0M329.1 148.6h0M328.8 154.6h0M346.0 128.0h0M330.7 126.2h0M319.5 125.7h0M330.7 125.0h0M316.7 152.9h0M337.9 143.3h0M340.0 126.9h0M330.5 119.2h0M314.9 110.7h0M314.3 126.4h0M330.3 155.5h0M336.0 117.8h0M341.6 125.0h0M322.4 116.4h0M313.8 129.0h0" stroke="#ffffff" stroke-width="0.7" stroke-linecap="round" fill="none" opacity="1.0"/>
<polygon points="327.5,108.8 333.0,107.5 339.0,110.1 345.4,119.1 347.4,130.6 344.2,135.8 336.5,133.2 331.3,128.1 328.8,120.4 326.2,112.7" fill="#6b82cc" opacity="0.85" stroke="#6b82cc" stroke-width="0.5" stroke-linejoin="round"/>
<path d="M332.1 128.1h0M343.2 116.7h0M330.3 110.9h0M335.8 124.4h0M333.0 108.5h0M335.1 117.5h0M345.8 132.1h0M338.4 111.1h0M338.0 110.3h0M338.5 132.9h0M346.5 128.9h0M339.9 120.9h0M342.7 126.4h0M329.5 122.5h0M335.0 122.1h0M341.3 127.0h0M338.3 129.8h0M329.3 108.8h0M332.8 119.9h0M336.1 123.5h0M337.8 110.1h0M338.7 126.4h0M335.0 122.2h0M330.5 120.6h0M331.7 126.6h0M328.5 111.4h0M330.4 122.6h0M334.3 112.0h0M343.7 135.1h0M343.5 134.0h0M330.6 110.9h0M329.7 114.0h0M345.3 133.3h0M336.2 111.1h0M333.7 114.3h0M339.9 127.9h0M342.7 119.9h0M335.9 120.7h0M334.0 120.4h0M340.7 127.6h0M333.1 123.5h0M329.3 108.8h0M334.4 117.7h0M332.9 117.9h0M332.8 111.4h0M338.7 131.2h0M334.3 112.5h0M341.5 129.9h0M328.0 112.8h0M332.9 129.3h0M341.8 116.1h0M335.8 117.5h0M336.2 130.0h0M345.7 124.5h0M328.8 116.1h0M335.6 131.2h0M340.6 113.3h0M345.2 132.0h0M332.3 115.8h0M338.8 130.7h0M327.7 114.4h0M341.7 117.1h0M331.0 109.3h0M337.8 118.8h0M338.2 115.7h0M333.3 121.4h0M334.2 115.1h0M327.3 115.9h0" stroke="#5670c4" stroke-width="0.9" stroke-linecap="round" fill="none" opacity="1.0"/>
<path d="M332.5 110.8h0M333.8 120.1h0M338.0 121.5h0M333.5 128.8h0M336.9 129.9h0M343.9 132.8h0M341.6 126.6h0M336.0 122.6h0M338.5 122.4h0M343.6 131.8h0M339.3 124.4h0M336.3 118.1h0M338.1 111.6h0M342.2 121.3h0M341.8 116.2h0M344.8 129.5h0M332.0 109.8h0M341.2 128.2h0M336.4 117.1h0M335.6 115.2h0M333.3 119.1h0M336.2 119.8h0M331.4 120.5h0M339.8 124.7h0M332.8 108.0h0M328.1 113.4h0M341.7 131.3h0M327.1 114.2h0M346.8 127.8h0M336.2 128.6h0M342.5 121.9h0M332.0 122.4h0M340.2 116.7h0M339.8 111.7h0M344.0 131.5h0M343.6 123.5h0M343.9 131.2h0M341.7 121.3h0M335.7 126.6h0M340.3 127.1h0M334.0 125.6h0M341.5 130.2h0M336.0 113.3h0M335.8 126.8h0M337.8 110.6h0M331.4 113.9h0M330.9 119.3h0M340.9 133.3h0M344.6 124.7h0M341.7 124.9h0M333.7 117.1h0M345.5 126.4h0M339.1 130.4h0M346.5 130.5h0M339.7 131.9h0M339.2 117.8h0M338.8 131.6h0M333.1 117.4h0M332.0 127.0h0M328.3 116.1h0M334.6 111.0h0M338.9 119.5h0M343.2 117.1h0M337.5 113.9h0M336.6 122.3h0M331.8 122.6h0M342.5 127.3h0M338.8 132.0h0M344.0 135.5h0M338.2 125.2h0M339.0 111.3h0M334.4 109.5h0M340.4 114.8h0M330.8 116.1h0M339.1 116.6h0M340.3 133.1h0M345.0 130.7h0M336.7 120.1h0M345.8 126.7h0M341.1 116.8h0M342.6 123.9h0M335.0 122.4h0M332.0 115.6h0M342.5 117.9h0M346.6 128.8h0M327.5 112.1h0M332.5 114.1h0M330.9 111.7h0M335.1 117.9h0M343.7 122.6h0M339.1 132.2h0M331.1 126.9h0M343.9 128.1h0M331.4 111.9h0M345.8 122.8h0M332.5 108.7h0M327.9 117.6h0M330.5 119.8h0M339.3 126.1h0M334.5 129.9h0M337.6 127.7h0M346.3 127.2h0M330.9 113.1h0M336.4 115.5h0M337.9 110.0h0M340.9 119.3h0M327.3 110.9h0M346.0 131.5h0M344.9 118.5h0M341.6 134.2h0M328.9 109.9h0M343.2 124.7h0M336.3 110.7h0M339.8 111.4h0M339.8 130.2h0M332.6 111.6h0M344.6 126.8h0M343.3 121.3h0M345.5 131.1h0M343.8 130.3h0M330.8 117.3h0M332.3 119.7h0M344.6 134.9h0M342.2 132.5h0M340.5 134.5h0M336.9 111.6h0M336.0 109.8h0M335.0 130.6h0M341.9 131.7h0M335.9 120.0h0M338.3 119.0h0M329.3 120.5h0M327.5 110.9h0M339.1 132.0h0M337.9 112.0h0M338.6 125.8h0M330.4 119.7h0M344.1 134.2h0M338.7 114.8h0M330.6 113.3h0M343.3 132.2h0M338.4 114.5h0M339.2 133.3h0M342.0 115.4h0M339.1 115.7h0M342.3 114.8h0M344.6 126.7h0M331.7 125.8h0M332.8 110.7h0M331.3 110.3h0M342.2 115.2h0M343.8 131.1h0" stroke="#ffffff" stroke-width="0.9" stroke-linecap="round" fill="none" opacity="1.0"/>
<polygon points="323.6,134.5 331.3,133.2 339.0,135.8 341.6,142.2 340.3,148.6 333.9,152.4 327.5,148.6 323.6,142.2" fill="#7587d0" opacity="0.85" stroke="#7587d0" stroke-width="0.5" stroke-linejoin="round"/>
<path d="M340.4 145.2h0M334.1 139.4h0M330.4 144.1h0M328.0 145.5h0M339.2 147.0h0M330.2 141.5h0M338.8 143.7h0M332.9 144.8h0M333.6 146.2h0M333.6 143.8h0M327.8 135.6h0M331.5 150.2h0M333.9 143.2h0M331.8 136.6h0M327.7 138.6h0M327.3 136.9h0M325.0 143.3h0M326.7 145.5h0M334.4 145.2h0M332.2 145.0h0M328.9 142.1h0M336.0 137.3h0M336.8 144.4h0M333.5 147.9h0M328.8 140.4h0M331.4 147.3h0M336.5 136.8h0M334.8 140.6h0M334.2 147.0h0M334.7 148.2h0M331.5 147.4h0M334.5 145.4h0M333.5 146.0h0M333.7 134.9h0M335.7 146.7h0M332.3 136.4h0M332.8 140.1h0M326.8 146.9h0" stroke="#6274c6" stroke-width="0.9" stroke-linecap="round" fill="none" opacity="1.0"/>
<path d="M326.7 143.1h0M331.7 145.4h0M331.9 136.3h0M330.0 141.7h0M333.3 142.3h0M333.6 148.4h0M334.4 139.4h0M340.8 144.7h0M328.5 143.7h0M335.3 142.6h0M328.8 136.3h0M327.8 141.6h0M331.2 144.7h0M328.5 145.1h0M332.1 148.5h0M338.1 137.8h0M341.2 143.7h0M329.6 138.1h0M336.4 141.6h0M335.9 138.1h0M339.1 138.3h0M339.3 141.6h0M330.8 144.3h0M333.0 143.7h0M333.7 151.4h0M328.6 133.8h0M326.8 142.7h0M324.6 139.3h0M335.3 149.6h0M334.2 150.7h0M335.7 137.8h0M330.3 142.4h0M332.3 137.0h0M332.4 148.7h0M328.5 144.5h0M325.2 137.8h0M327.0 142.9h0M336.0 137.6h0M336.0 144.5h0M331.8 143.0h0M326.8 134.8h0M335.2 135.2h0M324.2 134.8h0M333.4 137.0h0M328.3 147.9h0M331.6 136.0h0M334.8 141.7h0M333.3 146.7h0M338.7 148.3h0M328.1 148.2h0M325.5 135.7h0M332.7 136.7h0M333.7 138.7h0M340.6 141.5h0M331.7 148.0h0M332.5 140.9h0M325.8 145.8h0M340.2 146.4h0M329.3 143.3h0M330.0 140.7h0M332.3 143.0h0M328.2 140.9h0M328.1 144.7h0M331.4 146.3h0M331.3 148.2h0M333.5 135.2h0M332.5 138.1h0M332.2 147.4h0M326.4 145.3h0M325.7 137.5h0M330.2 133.4h0M336.8 145.9h0M324.8 137.7h0M337.6 147.9h0M327.8 143.0h0M338.0 144.8h0" stroke="#ffffff" stroke-width="0.8" stroke-linecap="round" fill="none" opacity="1.0"/>
<polygon points="303.0,143.5 310.8,142.2 317.2,143.5 323.6,147.3 328.8,152.4 331.3,158.8 327.5,161.6 319.8,161.6 310.8,156.3 304.4,148.6" fill="#c6c8d6" opacity="0.85" stroke="#c6c8d6" stroke-width="0.5" stroke-linejoin="round"/>
<path d="M317.9 145.8h0M304.9 145.8h0M317.8 153.8h0M316.0 154.5h0M319.0 154.7h0M314.6 158.5h0M318.0 159.3h0M330.9 158.3h0M324.9 155.6h0M318.6 147.0h0M310.0 154.1h0M318.5 154.0h0M315.1 146.8h0M311.6 155.7h0M311.9 150.9h0M315.1 154.5h0M324.4 157.1h0M325.9 156.3h0M315.6 154.8h0M314.8 153.0h0M317.7 149.3h0M330.5 157.5h0M310.9 142.6h0M322.1 158.2h0M317.3 144.0h0M313.7 151.8h0M310.3 143.3h0M319.4 153.6h0M323.2 150.3h0M329.5 156.2h0M319.1 159.1h0M308.1 147.9h0M318.6 153.8h0" stroke="#b4b7ca" stroke-width="0.9" stroke-linecap="round" fill="none" opacity="1.0"/>
<path d="M316.2 146.2h0M324.6 154.4h0M327.2 152.9h0M310.2 151.3h0M316.2 149.0h0M319.4 145.1h0M310.2 144.5h0M323.9 150.0h0M328.5 154.0h0M321.6 147.8h0M329.9 155.5h0M307.4 149.7h0M313.7 148.7h0M313.2 145.3h0M314.3 144.0h0M323.2 150.5h0M330.6 159.3h0M323.0 158.5h0M328.9 160.2h0M314.7 153.7h0M312.3 154.3h0M316.7 158.5h0M321.9 146.8h0M320.5 150.2h0M310.7 148.2h0M309.9 152.6h0M322.0 160.4h0M305.3 148.6h0M323.5 151.8h0M322.6 155.3h0M305.6 143.2h0M308.0 148.1h0M308.2 147.8h0" stroke="#ffffff" stroke-width="0.7" stroke-linecap="round" fill="none" opacity="1.0"/>
<polygon points="318.0,106.5 330.0,104.0 340.0,108.0 336.0,112.0 326.0,113.0 314.0,112.0" fill="#5a74c4" opacity="0.85" stroke="#5a74c4" stroke-width="0.5" stroke-linejoin="round"/>
<path d="M327.6 110.8h0M317.6 108.4h0M321.7 111.1h0M327.2 108.7h0M335.3 107.5h0M325.2 108.9h0M333.1 109.4h0M326.4 105.5h0M330.7 108.0h0M333.8 108.3h0M321.4 111.0h0M327.5 106.6h0M328.2 112.5h0M328.0 110.1h0M329.9 107.7h0M331.0 107.1h0M331.0 105.9h0M326.7 107.9h0M327.7 104.5h0M320.3 110.4h0M318.3 108.3h0M333.1 110.9h0M324.3 110.8h0M321.1 109.0h0M333.0 111.8h0M327.2 110.2h0M316.1 109.9h0M338.2 109.5h0M326.7 108.6h0M324.7 105.6h0M319.1 111.2h0" stroke="#4060b8" stroke-width="0.9" stroke-linecap="round" fill="none" opacity="1.0"/>
<path d="M330.0 111.5h0M330.9 105.6h0M327.2 108.1h0M331.3 106.3h0M338.7 107.8h0M325.9 112.3h0M330.9 108.2h0M333.4 110.7h0M333.0 110.7h0M329.6 105.1h0M333.4 105.6h0M334.7 109.6h0M330.6 104.7h0M323.5 110.6h0M324.7 111.7h0M330.4 106.1h0M316.1 111.5h0M335.9 110.3h0M319.4 110.8h0M322.3 112.6h0M333.1 110.9h0M337.6 109.1h0M316.2 110.7h0M330.9 111.5h0M333.7 108.5h0M339.4 108.2h0M325.6 109.7h0M334.5 109.3h0M329.6 109.6h0M339.0 109.0h0M332.8 110.8h0M318.4 110.0h0M325.4 105.9h0M321.1 107.3h0M333.1 109.0h0M334.5 110.8h0M335.7 111.1h0M326.0 106.7h0M329.8 109.4h0M328.1 104.6h0M328.6 108.7h0M321.9 106.0h0M318.1 108.3h0M323.5 109.3h0M331.5 106.5h0M329.8 106.3h0" stroke="#ffffff" stroke-width="0.9" stroke-linecap="round" fill="none" opacity="1.0"/>
<polygon points="400.0,97.0 407.5,95.8 417.5,98.3 426.3,102.0 431.3,107.0 431.9,112.0 428.8,115.8 420.0,117.0 411.3,115.8 403.8,112.0 400.0,107.0" fill="#e87c72" opacity="0.85" stroke="#e87c72" stroke-width="0.5" stroke-linejoin="round"/>
<path d="M419.0 111.4h0M425.5 107.1h0M425.3 103.4h0M408.5 109.1h0M404.1 99.6h0M403.0 109.6h0M412.4 115.3h0M425.7 107.1h0M410.9 102.6h0M401.7 98.2h0M412.1 112.2h0M402.6 105.8h0M402.5 97.6h0M425.2 115.8h0M429.2 107.1h0M416.2 112.4h0M420.2 107.8h0M405.5 98.8h0M402.6 105.0h0M403.8 98.0h0M419.0 108.2h0M412.7 103.2h0M404.5 110.5h0M411.9 108.5h0M413.5 103.3h0M429.7 109.0h0M406.3 105.5h0M400.5 106.7h0M402.2 98.7h0M416.2 107.2h0M406.8 108.2h0M409.9 110.7h0M414.3 99.5h0M409.3 109.1h0M407.1 104.5h0M402.3 105.5h0M405.7 107.4h0M407.0 108.6h0M407.6 96.4h0M422.2 114.2h0M425.7 113.9h0M406.8 102.4h0M419.1 108.9h0M420.0 107.5h0M407.5 100.9h0M402.7 97.0h0M412.2 103.5h0M409.9 97.2h0M407.8 96.2h0M414.3 106.0h0M428.3 106.4h0M425.6 103.3h0M424.0 112.3h0M411.2 111.5h0M411.2 99.5h0M413.4 98.2h0M422.9 101.1h0M415.9 112.9h0M419.1 115.1h0M423.2 110.5h0M423.6 110.4h0M429.3 108.4h0M421.1 107.5h0M417.0 115.8h0M409.6 99.8h0M416.0 102.4h0M422.8 109.3h0M400.1 100.2h0M419.8 104.2h0M421.7 105.8h0M403.6 110.4h0M419.7 108.8h0M419.5 106.5h0M427.8 105.0h0M425.9 110.0h0M402.3 100.3h0M407.4 113.2h0M415.5 114.7h0M423.0 108.2h0M428.5 115.4h0M409.3 108.8h0M424.0 102.0h0M409.8 115.0h0M403.0 109.1h0M423.6 116.1h0M423.1 101.7h0M403.2 99.5h0M408.3 107.9h0M410.3 99.0h0" stroke="#e06050" stroke-width="0.9" stroke-linecap="round" fill="none" opacity="1.0"/>
<path d="M400.1 95.7h0M399.0 96.7h0M401.5 96.3h0M401.0 96.1h0M405.1 96.8h0M407.3 96.0h0M405.2 96.1h0M400.2 97.1h0M404.1 96.1h0M408.5 95.7h0M408.9 96.4h0M411.4 97.2h0M407.2 94.6h0M414.2 97.2h0M412.8 98.4h0M412.3 96.3h0M417.5 98.8h0M407.9 95.8h0M414.4 97.6h0M416.8 98.4h0M413.8 97.5h0M424.5 101.6h0M418.3 98.7h0M419.1 99.6h0M423.8 100.4h0M420.9 100.7h0M420.8 100.1h0M421.6 99.2h0M423.8 101.5h0M418.8 99.9h0M417.7 98.8h0M419.8 99.8h0M429.7 105.0h0M428.2 104.5h0M430.0 105.2h0M426.9 103.7h0M431.2 105.0h0M427.0 102.2h0M429.1 104.2h0M427.3 102.3h0M432.1 109.8h0M430.9 107.7h0M432.6 108.2h0M430.6 112.2h0M431.5 111.4h0M430.6 107.0h0M430.5 115.3h0M432.1 112.8h0M432.2 113.9h0M429.4 114.0h0M432.4 111.9h0M421.2 116.5h0M425.3 115.8h0M425.6 115.9h0M425.6 116.4h0M427.1 116.3h0M421.4 116.8h0M426.6 115.5h0M427.1 116.3h0M427.0 116.6h0M420.4 117.9h0M417.8 116.4h0M411.6 115.8h0M413.2 115.8h0M413.0 115.8h0M413.0 115.2h0M416.1 117.7h0M413.4 116.0h0M414.9 115.8h0M420.8 116.2h0M413.4 116.8h0M406.1 113.3h0M404.3 113.5h0M406.9 113.1h0M408.0 115.0h0M407.2 112.9h0M406.0 112.4h0M406.4 113.4h0M408.8 114.9h0M408.5 114.7h0M406.4 115.2h0M401.0 109.0h0M403.2 110.9h0M401.2 109.5h0M400.8 107.6h0M400.5 108.6h0M401.8 111.0h0M402.4 111.1h0M399.9 102.9h0M400.5 101.1h0M399.4 100.9h0M398.6 106.3h0M400.3 105.2h0M400.2 104.8h0M400.9 99.9h0M401.0 100.1h0M398.6 105.6h0M399.4 96.8h0M400.5 103.9h0M399.3 103.9h0" stroke="#e06050" stroke-width="0.9" stroke-linecap="round" fill="none" opacity="1.0"/>
<path d="M420.1 115.1h0M400.0 100.2h0M403.2 103.6h0M429.1 105.7h0M411.3 112.7h0M409.4 111.3h0M419.1 109.7h0M400.9 103.4h0M418.8 110.6h0M415.4 109.0h0M412.4 101.6h0M409.3 100.6h0M403.7 106.5h0M431.6 112.4h0M421.3 111.5h0M406.6 106.6h0M400.6 106.8h0M401.0 98.2h0M403.9 103.1h0M415.2 100.4h0M402.5 98.4h0M400.5 99.0h0M420.7 116.2h0M429.5 113.7h0M410.1 111.4h0M431.0 112.0h0M425.1 110.7h0M413.5 107.9h0M429.7 107.9h0M400.8 105.3h0M427.8 110.8h0M415.4 115.6h0M422.4 114.2h0M413.8 113.8h0M400.4 102.6h0M409.7 100.4h0M421.0 112.7h0M420.7 115.1h0M403.6 101.9h0M412.8 112.6h0M427.8 107.0h0M423.6 113.1h0M416.6 110.2h0M427.2 113.4h0M405.0 96.4h0M422.6 113.1h0M404.9 109.7h0M426.6 115.8h0M403.9 110.7h0M417.5 115.2h0M414.2 104.5h0M407.4 113.7h0M410.2 115.1h0M418.9 104.6h0M415.7 112.8h0M401.1 99.3h0M407.3 113.1h0M412.1 104.0h0M427.0 114.0h0M407.6 111.5h0M411.4 112.0h0M415.0 104.8h0M414.7 107.6h0M422.0 104.3h0M416.6 113.3h0M404.4 101.6h0M422.3 103.6h0M423.8 106.4h0M430.4 106.4h0M420.3 110.3h0M420.1 99.6h0M418.1 104.9h0M421.7 112.2h0M406.6 103.6h0M415.6 105.3h0M430.8 112.4h0M427.4 106.5h0M404.0 103.7h0M402.7 104.3h0M414.4 106.0h0M431.2 107.1h0M405.3 99.6h0M421.7 106.7h0M413.1 106.3h0M413.1 110.2h0M415.8 101.1h0M418.6 105.6h0M424.3 116.2h0M423.7 108.9h0M416.2 98.2h0M412.1 108.2h0M408.4 114.1h0M417.4 116.4h0M400.7 105.6h0M410.3 108.0h0M420.7 108.3h0M411.8 111.7h0M417.7 101.5h0M402.4 107.2h0M429.0 113.9h0M426.0 108.7h0M416.3 102.0h0M405.3 105.2h0M426.6 107.5h0M417.3 108.3h0M413.3 115.0h0M428.8 110.2h0M411.5 111.6h0M413.4 110.5h0M416.1 109.2h0M429.4 114.7h0M415.3 104.0h0M422.8 109.9h0M403.0 106.6h0M408.9 109.5h0M405.3 102.1h0M408.0 101.7h0M418.0 114.1h0M420.5 109.5h0M424.3 104.1h0M413.7 109.6h0M406.6 111.8h0M429.4 114.5h0M407.1 98.6h0M419.7 103.1h0M405.7 108.7h0M417.1 107.2h0M416.3 108.9h0M424.8 111.1h0M422.5 113.3h0M415.0 109.4h0M403.6 97.5h0M414.4 110.2h0M409.2 106.2h0M404.9 101.1h0M420.2 103.5h0M410.9 98.6h0M429.3 105.2h0M418.5 101.0h0M417.0 102.7h0M408.3 103.5h0M416.8 103.9h0M409.7 105.9h0M415.0 99.7h0M416.5 108.0h0M418.3 111.5h0M414.5 100.3h0M409.7 104.6h0M413.2 100.3h0M417.5 108.7h0M404.2 104.9h0M404.2 107.3h0M423.3 113.9h0M414.6 109.9h0M411.9 115.8h0M415.8 114.2h0M402.1 104.0h0M422.2 113.6h0M415.8 114.0h0M424.2 104.6h0M422.6 106.7h0M426.9 114.7h0M407.5 112.3h0M401.2 106.4h0M409.7 106.5h0M412.2 107.5h0M413.8 111.9h0M421.0 101.7h0M406.3 100.8h0M410.4 104.8h0M416.1 112.0h0M409.4 106.8h0M401.2 108.4h0M418.7 103.9h0" stroke="#ffffff" stroke-width="0.8" stroke-linecap="round" fill="none" opacity="1.0"/>
<polygon points="405.0,114.5 420.0,117.0 430.0,117.0 431.3,123.3 428.8,129.5 422.5,133.3 413.8,132.0 407.5,127.0 405.0,119.5" fill="#eca8aa" opacity="0.85" stroke="#eca8aa" stroke-width="0.5" stroke-linejoin="round"/>
<path d="M405.5 116.5h0M411.3 128.4h0M424.4 121.2h0M428.2 117.6h0M411.0 125.2h0M419.0 129.4h0M413.1 131.5h0M421.6 127.5h0M420.1 118.5h0M419.8 132.2h0M413.1 119.3h0M425.3 126.7h0M408.5 127.7h0M428.2 124.8h0M418.3 122.1h0M419.9 131.7h0M420.7 128.5h0M417.2 131.1h0M425.2 124.1h0M412.9 120.1h0M406.9 124.3h0M416.2 125.8h0M417.7 130.1h0M419.4 124.8h0M416.4 132.2h0M419.8 124.5h0M414.6 123.1h0M412.1 122.9h0M411.9 115.9h0M428.8 120.5h0M412.1 124.8h0M412.7 128.1h0M406.1 115.6h0M428.2 127.4h0M411.9 126.6h0M414.5 124.1h0M412.2 124.7h0M422.1 130.4h0M411.7 125.2h0M419.9 130.9h0M417.6 130.8h0M429.3 122.2h0M420.2 124.5h0M425.5 125.9h0M418.6 126.9h0M411.9 121.6h0M426.7 128.3h0M407.8 120.5h0M428.1 129.5h0M408.9 118.4h0M424.2 126.8h0M429.7 119.5h0M422.1 128.9h0" stroke="#e48a90" stroke-width="0.9" stroke-linecap="round" fill="none" opacity="1.0"/>
<path d="M413.8 116.2h0M416.4 116.8h0M418.6 117.0h0M414.0 117.1h0M411.1 114.3h0M406.9 114.7h0M407.4 114.5h0M415.8 116.7h0M419.6 116.6h0M414.2 116.3h0M409.1 116.1h0M414.0 114.9h0M410.5 115.3h0M413.7 116.7h0M409.2 115.4h0M405.6 114.7h0M410.3 116.6h0M406.0 114.6h0M428.0 117.4h0M426.0 117.1h0M420.8 116.0h0M429.9 118.2h0M422.9 116.9h0M424.6 116.7h0M424.9 116.6h0M427.5 116.9h0M426.8 116.4h0M431.1 117.7h0M427.0 116.2h0M428.5 117.3h0M430.2 123.1h0M429.7 121.4h0M431.2 120.6h0M431.4 122.4h0M432.5 122.4h0M429.7 120.0h0M430.6 121.0h0M432.0 124.5h0M429.2 126.7h0M429.2 129.3h0M430.0 128.6h0M431.1 125.3h0M431.5 125.0h0M429.0 126.9h0M430.3 124.7h0M427.1 131.0h0M423.4 132.5h0M425.7 131.8h0M424.4 132.5h0M425.8 133.2h0M427.7 129.5h0M428.3 129.2h0M423.6 133.8h0M419.2 132.9h0M420.0 131.7h0M414.6 132.5h0M419.0 133.2h0M416.8 132.4h0M421.1 133.7h0M419.5 132.3h0M419.3 132.7h0M420.1 132.1h0M415.1 132.3h0M412.8 130.0h0M407.2 127.6h0M411.6 129.4h0M407.5 128.0h0M409.0 128.8h0M408.9 128.8h0M410.2 129.6h0M409.2 127.4h0M410.7 129.5h0M407.3 124.9h0M406.4 124.4h0M408.0 125.7h0M406.3 125.5h0M406.8 124.4h0M403.9 118.7h0M404.6 120.7h0M405.6 122.0h0M406.8 122.7h0M405.1 119.1h0M405.3 117.4h0M404.2 117.6h0M404.8 115.1h0M405.3 119.5h0M404.9 119.0h0" stroke="#e48a90" stroke-width="0.9" stroke-linecap="round" fill="none" opacity="1.0"/>
<path d="M427.4 121.3h0M417.6 129.2h0M409.7 123.9h0M429.4 125.2h0M413.0 126.4h0M418.2 123.9h0M421.7 127.9h0M423.0 129.5h0M410.1 118.2h0M427.2 122.7h0M408.5 119.6h0M429.2 118.1h0M426.7 119.5h0M425.9 121.7h0M419.8 127.4h0M423.9 118.4h0M422.7 117.6h0M411.4 129.1h0M409.0 122.3h0M408.0 125.5h0M409.6 121.3h0M430.7 122.9h0M411.9 116.5h0M421.3 117.4h0M409.7 117.2h0M424.5 126.8h0M412.7 120.4h0M412.3 124.8h0M409.0 126.3h0M412.4 127.0h0M409.6 116.3h0M414.4 126.4h0M420.1 118.0h0M427.0 126.5h0M405.6 115.7h0M426.8 130.4h0M413.5 118.4h0M410.5 123.9h0M410.5 127.3h0M414.3 131.7h0M419.7 123.8h0M425.0 125.1h0M416.9 117.8h0M426.0 126.3h0M417.2 128.4h0M409.3 121.3h0M421.6 119.4h0M422.0 128.0h0M412.1 129.0h0M427.6 123.1h0M419.9 126.8h0M409.8 124.4h0M421.7 130.6h0M412.0 117.7h0M416.0 117.6h0M411.8 123.7h0M409.6 123.4h0M418.7 117.8h0M422.4 125.1h0M418.7 119.6h0M412.3 115.9h0M423.2 126.8h0M412.2 118.8h0M423.3 119.1h0M410.5 129.2h0M407.9 118.4h0M409.3 122.3h0M413.4 120.6h0M412.9 120.7h0M412.9 117.5h0M413.3 127.5h0M414.3 118.8h0M412.8 119.6h0M427.0 128.8h0M405.5 119.9h0M427.0 123.4h0M410.6 117.9h0M405.5 118.5h0M422.5 132.5h0M408.0 127.1h0M428.7 120.4h0M414.8 129.4h0M419.3 126.3h0M425.4 126.7h0M422.0 132.9h0M426.8 128.0h0M431.1 122.9h0M409.2 121.3h0M414.2 119.6h0M423.3 117.6h0M417.2 123.9h0M413.3 129.2h0M410.8 129.6h0M425.1 126.3h0M407.0 116.8h0M411.3 127.0h0M424.9 130.8h0M408.6 118.4h0M414.4 127.6h0M409.3 126.5h0M412.2 122.7h0M420.5 132.4h0M406.3 117.8h0M410.8 127.8h0M422.1 132.9h0M418.0 121.4h0M428.1 119.5h0" stroke="#ffffff" stroke-width="0.8" stroke-linecap="round" fill="none" opacity="1.0"/>
<polygon points="372.5,104.5 377.5,100.8 382.5,97.0 383.8,90.8 388.8,87.6 396.3,86.4 400.0,89.5 402.5,94.5 403.8,99.5 401.3,105.8 398.8,110.8 393.8,112.0 388.8,109.5 382.5,107.0 376.3,106.4" fill="#e63d24" opacity="0.85" stroke="#e63d24" stroke-width="0.5" stroke-linejoin="round"/>
<path d="M401.1 95.7h0M385.2 107.8h0M396.2 91.1h0M385.0 100.7h0M393.0 104.8h0M384.7 96.1h0M378.0 102.4h0M382.8 106.5h0M398.3 95.5h0M386.7 100.5h0M398.8 107.8h0M386.9 98.4h0M389.5 93.0h0M386.2 98.0h0M387.7 98.1h0M394.5 101.0h0M394.5 88.1h0M387.6 97.1h0M392.8 111.1h0M391.1 91.5h0M391.6 99.1h0M401.4 98.7h0M395.3 98.9h0M388.4 94.3h0M387.5 100.0h0M400.5 97.8h0M395.8 110.1h0M394.3 100.3h0M386.4 107.0h0M401.5 95.8h0M389.4 97.4h0M385.0 95.8h0M382.4 103.4h0M393.3 102.3h0M388.8 103.6h0M394.2 105.1h0M398.0 92.2h0M391.9 107.4h0M379.3 100.1h0M400.5 95.4h0M396.9 108.5h0M385.0 103.3h0M394.1 95.6h0M399.6 100.1h0M389.4 92.0h0M382.0 98.5h0M379.6 105.4h0M389.8 92.7h0M387.6 100.8h0M393.0 105.4h0M376.0 105.4h0M397.9 106.5h0M388.2 100.5h0M395.9 101.5h0M382.6 101.3h0M393.1 94.2h0M384.9 99.2h0M400.4 100.7h0M401.2 96.4h0M392.9 87.0h0M379.5 103.0h0M382.8 99.7h0M403.3 100.7h0M393.4 100.8h0M385.8 97.0h0M388.8 93.7h0M389.6 101.5h0M384.7 107.1h0M396.5 104.1h0M377.6 104.4h0M400.2 104.0h0M393.3 100.3h0M395.4 100.4h0M397.5 90.4h0M387.2 102.5h0M395.5 104.8h0M392.5 101.7h0M387.4 97.7h0M391.3 95.0h0M397.5 100.4h0M386.1 99.6h0M394.7 107.8h0M398.0 104.6h0M388.4 88.4h0M387.3 105.8h0" stroke="#d42a18" stroke-width="0.9" stroke-linecap="round" fill="none" opacity="1.0"/>
<path d="M375.2 102.4h0M374.9 103.1h0M375.7 102.6h0M373.7 101.5h0M373.7 105.5h0M376.2 99.8h0M375.8 104.0h0M383.8 97.4h0M380.8 99.1h0M379.1 99.0h0M378.4 100.1h0M378.3 99.8h0M380.2 98.6h0M382.2 96.9h0M382.9 90.4h0M383.8 92.7h0M383.4 94.4h0M382.3 91.8h0M382.6 94.0h0M384.1 91.2h0M384.1 91.8h0M386.5 89.8h0M383.8 90.5h0M386.1 90.5h0M384.7 90.0h0M385.8 90.3h0M384.4 91.5h0M383.3 90.7h0M391.4 88.0h0M389.6 87.6h0M391.6 88.2h0M391.2 86.5h0M394.9 86.4h0M393.7 86.7h0M394.9 86.6h0M392.7 86.7h0M390.5 87.4h0M399.8 88.5h0M397.8 86.2h0M397.7 87.0h0M398.5 88.7h0M397.4 87.2h0M400.9 91.8h0M401.6 93.2h0M401.7 91.9h0M401.6 93.0h0M402.3 93.2h0M402.9 91.2h0M403.8 98.2h0M403.8 98.5h0M404.3 97.6h0M404.0 99.2h0M403.8 99.1h0M403.9 97.8h0M402.0 99.9h0M401.9 103.9h0M402.5 100.0h0M403.2 99.9h0M401.7 103.0h0M402.8 99.4h0M402.6 104.9h0M403.9 100.0h0M399.2 110.5h0M402.2 106.4h0M399.6 107.8h0M400.2 109.0h0M399.5 109.8h0M401.3 108.9h0M394.4 111.8h0M397.3 110.6h0M395.6 112.0h0M398.4 110.6h0M396.6 109.4h0M394.9 111.2h0M389.8 110.2h0M390.2 110.7h0M388.8 108.6h0M389.3 109.4h0M390.0 110.8h0M389.3 109.8h0M383.9 107.2h0M384.5 108.5h0M384.2 106.5h0M385.7 108.6h0M381.0 106.9h0M383.9 107.3h0M387.1 109.2h0M387.4 108.8h0M379.7 106.6h0M381.5 108.6h0M377.3 106.3h0M377.3 105.8h0M379.0 106.9h0M377.4 106.8h0M376.6 107.9h0M376.7 107.0h0M374.3 103.8h0M374.0 106.8h0M375.5 106.4h0M376.9 108.5h0" stroke="#d42a18" stroke-width="0.9" stroke-linecap="round" fill="none" opacity="1.0"/>
<path d="M395.0 91.7h0M397.9 91.2h0M387.1 101.3h0M396.1 92.7h0M398.8 90.5h0M387.6 93.7h0M390.3 92.8h0M389.5 92.9h0M397.2 97.9h0M388.5 103.3h0M385.3 105.6h0M395.4 98.2h0M391.5 92.9h0M402.2 102.8h0M397.7 95.9h0M390.6 104.6h0M389.2 105.9h0M381.0 106.5h0M382.5 99.6h0M378.4 100.3h0M393.1 104.0h0M394.0 104.8h0M391.4 90.3h0M389.5 93.6h0M403.0 98.3h0M396.3 102.4h0M393.4 110.3h0M399.1 101.3h0M387.1 100.0h0M383.1 97.7h0M391.6 94.4h0M391.5 87.8h0M399.8 108.4h0M397.1 105.6h0M378.3 100.9h0M397.2 91.8h0M393.4 104.3h0M400.0 91.0h0M400.9 93.4h0M396.2 91.3h0M399.4 97.6h0M386.9 99.1h0M390.7 88.5h0M385.8 104.9h0M400.5 101.6h0M395.7 92.1h0M379.8 102.6h0M384.5 98.3h0M402.4 95.7h0M382.9 105.4h0M379.7 105.8h0M397.2 106.7h0M390.6 89.1h0M393.7 101.3h0M387.7 106.0h0M392.3 109.4h0M388.9 98.2h0M401.6 96.0h0M390.1 101.6h0M391.2 109.4h0M388.7 100.5h0M386.5 95.0h0M388.0 88.7h0M392.5 87.5h0M387.3 91.8h0M384.8 92.1h0M395.0 89.0h0M399.0 96.9h0M379.1 106.2h0M384.3 95.8h0M401.8 99.1h0M386.1 101.5h0M399.5 102.6h0M381.6 97.8h0M397.1 108.2h0M388.6 100.8h0M389.4 98.4h0M396.9 92.8h0M386.1 103.7h0M400.4 92.9h0M383.6 98.4h0M380.9 99.5h0M398.5 109.2h0M387.8 95.4h0M398.9 96.2h0M396.5 99.5h0M381.7 101.7h0M383.0 103.5h0M397.4 106.9h0M396.7 89.6h0M380.9 103.5h0M392.4 109.3h0M389.3 94.7h0M396.8 103.9h0M386.5 107.5h0M385.7 103.0h0M390.3 101.5h0M402.8 101.8h0M389.8 90.6h0M393.5 99.3h0M400.9 94.8h0M396.2 97.0h0M387.3 98.4h0M391.0 104.1h0M377.2 103.0h0M398.3 96.9h0M391.5 89.5h0M394.1 105.4h0M389.5 90.2h0M398.7 92.7h0M384.6 104.0h0M389.8 94.7h0M396.6 90.9h0M393.5 99.3h0M385.4 101.3h0M389.7 90.4h0M387.3 97.5h0M389.8 107.8h0M388.2 103.6h0M393.0 91.6h0M402.9 96.6h0M390.3 106.3h0M382.3 104.4h0M395.4 106.3h0M390.8 97.8h0M387.3 100.9h0M396.2 90.1h0M388.7 91.7h0M386.5 106.1h0M379.7 104.4h0M388.0 95.0h0M388.3 105.6h0M392.0 95.7h0M384.0 93.5h0M389.2 106.8h0M400.9 95.6h0M395.2 108.9h0M396.9 94.1h0M390.7 97.7h0M383.1 95.2h0M389.7 102.0h0" stroke="#fbd2bc" stroke-width="0.8" stroke-linecap="round" fill="none" opacity="1.0"/>
<polygon points="430.6,107.7 438.2,111.5 447.2,115.3 449.1,120.5 448.5,129.4 445.9,135.8 440.8,142.2 437.0,147.3 430.6,151.2 424.2,155.0 417.8,155.5 415.2,151.2 416.5,143.5 421.6,137.1 426.7,129.4 430.6,123.0 431.9,115.3" fill="#d8d8dd" opacity="0.8" stroke="#d8d8dd" stroke-width="0.5" stroke-linejoin="round"/>
<path d="M426.5 142.2h0M446.1 117.6h0M420.9 143.8h0M441.6 124.3h0M433.0 149.6h0M428.8 138.7h0M431.7 141.6h0M440.1 142.0h0M441.0 117.9h0M437.3 145.7h0M440.5 116.2h0M423.5 136.5h0M425.8 134.3h0M433.4 132.3h0M443.3 116.7h0M436.4 117.0h0M426.1 145.5h0M438.9 114.8h0M427.1 143.3h0M440.3 113.5h0M443.5 128.0h0M437.3 130.8h0M439.1 128.6h0M443.8 136.3h0M423.1 151.5h0M429.8 136.7h0M433.8 129.0h0M433.8 123.5h0M420.7 148.8h0M440.8 125.7h0M426.2 150.2h0M437.8 127.9h0M419.2 148.6h0M433.1 119.6h0M429.8 147.4h0M416.1 146.2h0M439.9 139.2h0M422.2 152.2h0M442.1 119.2h0M433.3 116.7h0M423.2 137.6h0M436.1 137.1h0M438.5 137.3h0M431.6 133.5h0M420.1 150.0h0M437.1 139.4h0M440.4 129.0h0M422.2 137.9h0M428.4 129.7h0M435.2 142.4h0M436.0 137.5h0M433.8 147.3h0M434.3 132.4h0M430.0 146.1h0M418.8 149.1h0M426.2 134.9h0M436.5 121.1h0M435.1 136.2h0M428.2 143.6h0M448.1 130.4h0M437.0 133.1h0M423.8 151.0h0M427.8 143.4h0M438.3 137.4h0M447.4 125.3h0M424.8 137.4h0M423.5 140.3h0M420.5 147.3h0M439.1 134.4h0M433.8 142.9h0M432.0 134.6h0M442.8 120.2h0M424.8 143.9h0M428.9 148.8h0M439.4 113.3h0M437.9 139.0h0M437.4 122.9h0M434.1 137.4h0M431.7 113.6h0M431.7 127.9h0M438.2 130.9h0M440.6 135.0h0M441.3 116.9h0M424.5 153.3h0M418.3 150.0h0M418.7 148.6h0M433.3 120.9h0M437.2 141.6h0M417.4 151.3h0M446.5 124.1h0M418.9 143.6h0M442.6 129.7h0M429.6 145.4h0M434.5 145.2h0M443.9 114.8h0M427.5 140.9h0M437.0 136.5h0M430.3 140.4h0M430.9 131.6h0M417.9 153.0h0M427.7 129.3h0M443.7 131.0h0M417.3 150.4h0M429.9 125.1h0M440.4 140.5h0M435.5 117.6h0M432.4 120.5h0M437.0 144.6h0M429.0 132.3h0M430.6 129.8h0M427.2 130.7h0M435.2 128.5h0M426.0 142.0h0M426.6 144.0h0M426.6 144.5h0M440.7 128.1h0M431.5 111.8h0M436.6 144.2h0M429.8 138.3h0M432.9 149.6h0M425.8 153.3h0M441.7 127.8h0M426.5 137.3h0M424.7 137.4h0M441.2 121.1h0M442.8 129.8h0M431.9 145.4h0M434.7 113.5h0M437.9 145.0h0M438.4 143.7h0M422.0 141.9h0M446.6 118.0h0M441.2 129.5h0M429.7 126.9h0M420.4 145.2h0M432.8 144.2h0M431.5 119.0h0M439.6 131.6h0M429.4 130.2h0M443.5 124.5h0M435.8 132.1h0M446.8 125.0h0M425.0 148.2h0M434.0 111.2h0M447.3 123.4h0M431.8 134.5h0M419.5 141.2h0M432.6 146.9h0M430.1 124.3h0M436.8 127.2h0M448.5 120.4h0M418.8 146.9h0M421.8 141.2h0M421.7 153.3h0M416.0 152.0h0M429.1 128.9h0M432.2 119.1h0M446.3 132.5h0M424.1 150.6h0M439.2 131.2h0M442.2 124.5h0M446.6 118.4h0M423.0 149.2h0M425.5 146.9h0M444.9 125.8h0M434.4 121.8h0M446.2 127.7h0M433.1 118.5h0M440.0 133.3h0M420.1 152.6h0M439.7 127.8h0M442.5 128.0h0M434.0 142.1h0M444.8 115.5h0M420.4 145.7h0M439.7 113.6h0M432.3 138.7h0M415.9 146.8h0M440.9 119.4h0M435.8 135.7h0M437.5 129.2h0M430.5 129.9h0M429.3 136.9h0M422.5 151.7h0M429.6 151.2h0M442.0 131.0h0M442.4 119.7h0M426.2 133.9h0M435.9 141.7h0M425.8 146.6h0M425.2 141.5h0M434.6 136.2h0M420.9 148.4h0M444.4 132.7h0M444.5 126.4h0M431.5 132.2h0M435.4 124.8h0M437.9 135.2h0M423.4 135.5h0M437.8 120.0h0M438.0 128.4h0M422.6 141.6h0M442.3 118.1h0M442.4 136.7h0M439.3 136.1h0M441.5 114.0h0M448.6 126.2h0M417.9 152.0h0M439.8 142.6h0" stroke="#c0c1c8" stroke-width="0.9" stroke-linecap="round" fill="none" opacity="1.0"/>
<path d="M433.5 108.1h0M431.5 109.1h0M435.7 110.3h0M431.6 109.7h0M435.2 110.9h0M433.9 108.6h0M437.0 111.3h0M437.2 111.9h0M437.0 109.9h0M436.0 110.2h0M440.1 112.3h0M438.4 111.8h0M440.5 110.3h0M443.6 113.6h0M442.2 112.9h0M441.6 113.4h0M439.5 111.4h0M446.6 116.2h0M441.5 112.6h0M447.1 116.4h0M442.0 112.8h0M447.5 115.5h0M446.4 115.3h0M448.4 118.4h0M449.3 118.9h0M447.1 115.8h0M448.8 120.6h0M448.9 122.0h0M448.8 124.0h0M448.5 122.5h0M448.9 126.5h0M449.0 121.0h0M449.5 127.8h0M448.2 124.8h0M447.8 124.4h0M449.4 123.7h0M448.8 121.7h0M444.5 133.8h0M447.9 134.3h0M448.1 132.5h0M445.5 134.8h0M446.8 133.5h0M446.7 134.4h0M446.2 136.1h0M446.5 134.5h0M444.4 136.9h0M445.5 137.8h0M445.7 137.9h0M444.8 139.5h0M446.2 137.7h0M442.4 141.6h0M442.6 141.8h0M442.3 140.9h0M443.1 139.3h0M439.2 144.2h0M438.5 146.1h0M439.7 143.8h0M440.5 143.6h0M436.3 147.2h0M438.8 142.4h0M438.9 142.7h0M433.1 149.5h0M435.6 148.4h0M436.6 148.9h0M431.9 150.4h0M433.5 150.3h0M431.1 151.1h0M432.4 149.7h0M435.1 148.5h0M424.2 154.7h0M430.0 150.3h0M429.0 150.6h0M427.6 153.1h0M430.7 152.6h0M430.3 150.9h0M428.2 152.2h0M428.0 153.8h0M423.2 155.1h0M417.5 155.1h0M422.9 154.3h0M421.2 155.5h0M421.5 154.8h0M423.4 154.9h0M424.6 155.5h0M416.6 154.8h0M417.4 156.1h0M417.8 154.3h0M417.4 153.3h0M415.1 154.8h0M415.5 152.2h0M416.3 144.3h0M415.8 147.3h0M417.2 144.6h0M416.1 144.3h0M416.0 147.3h0M415.3 144.5h0M414.3 150.4h0M416.8 144.3h0M415.6 144.8h0M422.7 137.9h0M417.1 143.8h0M416.8 142.6h0M420.1 138.1h0M421.6 137.8h0M416.7 143.0h0M418.6 141.5h0M420.9 136.7h0M416.1 143.2h0M425.4 131.5h0M425.9 130.6h0M423.0 131.9h0M424.5 131.2h0M425.5 130.2h0M425.6 131.2h0M425.3 133.3h0M424.5 131.7h0M421.8 137.7h0M422.1 136.5h0M422.2 136.8h0M430.2 123.2h0M428.2 126.9h0M429.4 124.3h0M426.5 129.9h0M429.7 125.3h0M430.4 125.0h0M427.8 127.6h0M428.5 125.7h0M430.8 117.4h0M430.6 122.2h0M431.9 116.9h0M430.5 119.1h0M430.1 122.9h0M431.6 118.2h0M430.6 119.0h0M430.5 121.6h0M431.1 119.2h0M431.7 113.9h0M431.7 108.6h0M430.8 110.9h0M432.3 112.2h0M431.0 112.1h0M431.9 113.3h0M431.6 115.0h0M431.4 113.8h0M430.1 109.8h0" stroke="#c0c1c8" stroke-width="0.9" stroke-linecap="round" fill="none" opacity="1.0"/>
<path d="M426.8 138.1h0M426.6 140.6h0M432.6 132.1h0M435.9 144.1h0M426.5 146.2h0M439.4 119.4h0M433.2 133.0h0M432.0 143.4h0M432.7 134.6h0M423.5 137.2h0M424.6 144.4h0M436.9 114.4h0M430.3 145.8h0M437.1 117.8h0M433.0 127.9h0M443.8 117.9h0M424.0 143.9h0M423.9 154.7h0M436.9 113.6h0M435.2 121.4h0M438.8 118.8h0M430.1 144.6h0M422.5 137.3h0M427.0 150.6h0M420.2 140.4h0M431.6 136.5h0M440.6 138.7h0M446.4 128.4h0M435.4 128.2h0M444.9 121.8h0M431.9 145.3h0M427.8 128.4h0M418.6 153.7h0M432.2 130.2h0M436.9 111.2h0M448.0 121.3h0M426.4 147.1h0M438.9 125.7h0M435.3 128.0h0M437.5 114.7h0M433.9 133.1h0M445.6 123.1h0M428.6 140.9h0M435.7 131.3h0M435.6 118.6h0M433.2 142.6h0M422.3 148.6h0M442.2 132.9h0M446.8 128.5h0M438.8 118.9h0M437.5 118.6h0M439.2 117.5h0M434.4 132.8h0M430.8 138.5h0M442.9 114.2h0M427.3 131.7h0M442.8 122.9h0M443.0 136.2h0M440.6 125.3h0M437.6 115.6h0M438.4 132.2h0M433.2 118.4h0M429.2 138.8h0M432.5 111.2h0M417.8 148.7h0M440.0 137.0h0M432.3 132.7h0M426.0 149.4h0M436.8 141.4h0M431.7 118.2h0M419.8 148.1h0M430.8 142.3h0M424.4 151.1h0M417.4 142.9h0M425.3 152.6h0M435.7 142.8h0M433.7 144.3h0M429.5 143.1h0M447.8 128.9h0M444.5 128.1h0M440.4 119.7h0M438.9 117.8h0M417.3 154.2h0M444.3 122.5h0M419.8 147.7h0M444.6 115.9h0M443.6 129.1h0M434.9 132.2h0M442.4 133.1h0M438.8 118.1h0M444.5 132.4h0M447.3 121.7h0M419.3 154.8h0M429.7 135.1h0M426.1 152.3h0M431.8 141.7h0M436.0 119.4h0M439.8 114.9h0M444.6 131.0h0M432.7 120.9h0M434.0 122.6h0M431.0 148.3h0M418.3 145.9h0M431.1 139.0h0M421.4 151.2h0M446.5 123.9h0M438.4 144.3h0M443.1 138.7h0M424.0 139.7h0M440.4 129.2h0M433.7 138.4h0M438.4 128.2h0M427.5 132.6h0M434.9 114.2h0M430.8 131.7h0M441.0 121.3h0M436.3 131.7h0M448.7 124.0h0M418.7 146.9h0M446.8 122.4h0M436.8 144.9h0M443.4 136.5h0M446.2 125.4h0M441.7 140.6h0M426.2 132.0h0M428.6 146.3h0M441.5 113.1h0M441.9 134.2h0M438.2 140.2h0M423.5 150.2h0M436.2 124.8h0M427.9 140.4h0M423.0 138.8h0M425.7 144.9h0M428.1 150.7h0M443.2 134.1h0M426.3 151.8h0M433.3 121.8h0M425.7 150.3h0M445.7 135.2h0M437.4 139.5h0M430.4 144.4h0M417.7 149.2h0M430.6 134.3h0M440.5 133.8h0M423.7 143.9h0M417.6 144.9h0M432.2 132.4h0M424.2 154.3h0M431.9 127.8h0M440.3 142.7h0M432.2 143.0h0M424.3 151.0h0M433.8 114.5h0M440.3 127.4h0M432.2 112.9h0M445.3 119.1h0M426.6 145.1h0M434.4 119.8h0M418.1 143.7h0M433.6 139.8h0M437.5 120.6h0M426.9 152.3h0M425.9 151.2h0M424.0 152.1h0M446.5 116.0h0M425.4 144.5h0M436.9 113.8h0M439.1 121.5h0M416.4 149.5h0M426.4 148.7h0M448.7 126.1h0M415.7 149.3h0M432.2 125.1h0M446.7 127.6h0M426.9 133.0h0M443.6 135.1h0M439.6 136.6h0M421.5 137.8h0M443.0 113.9h0M448.3 123.4h0M423.5 149.7h0M426.5 133.3h0M430.6 133.6h0M438.4 144.4h0M428.1 140.9h0M444.9 132.1h0M431.1 129.9h0M446.7 121.5h0M426.5 139.1h0M428.6 144.4h0M443.4 117.1h0M439.2 116.7h0M423.3 146.6h0M439.5 131.3h0M425.2 140.0h0M433.6 123.9h0M434.5 123.4h0M436.1 147.6h0M445.6 117.2h0M417.7 143.4h0M429.4 134.4h0M428.5 136.3h0M448.1 119.0h0M429.7 125.2h0M433.7 119.7h0M419.9 151.3h0M432.0 136.1h0M436.6 143.5h0M433.8 137.8h0M439.7 118.5h0M421.8 140.0h0M445.8 116.0h0M434.5 117.0h0M420.4 149.1h0M418.9 151.4h0M418.7 154.2h0M435.3 126.8h0M435.9 130.2h0M429.4 136.3h0M443.4 133.6h0M418.1 153.3h0M421.5 146.3h0M437.7 126.8h0M424.0 140.8h0M427.8 141.4h0M427.2 128.6h0M434.9 134.8h0M424.6 141.4h0M433.3 117.6h0M444.4 134.9h0M445.3 126.4h0M432.1 109.2h0M430.1 149.4h0M446.1 129.7h0M419.0 146.9h0M423.6 136.6h0M421.8 154.8h0M444.7 127.4h0M427.9 146.7h0M443.7 123.9h0M446.3 124.8h0M422.6 150.2h0M442.2 118.2h0M433.1 115.2h0M441.3 112.9h0M427.5 151.3h0M430.5 136.7h0M433.5 142.9h0M422.2 152.8h0M430.6 127.7h0M448.2 127.9h0M439.4 132.9h0M445.5 134.7h0M440.4 122.3h0M435.5 145.2h0M434.2 148.7h0M423.3 145.4h0M433.8 122.3h0M428.2 142.1h0M425.1 154.2h0M429.4 132.2h0M418.6 149.8h0M446.9 125.4h0M438.0 128.3h0M432.5 148.9h0M429.1 147.8h0M440.8 127.1h0M424.8 142.7h0M424.5 132.9h0M422.4 153.7h0M442.8 130.4h0M426.7 150.5h0M428.7 136.2h0M434.3 123.8h0M437.1 136.7h0M434.3 138.9h0M432.0 127.6h0M447.4 125.9h0M416.0 150.9h0M434.5 138.4h0M447.8 121.9h0M424.8 150.7h0M433.7 109.8h0M419.1 154.4h0M444.5 116.0h0M443.9 125.8h0M424.1 147.0h0M423.1 153.7h0M420.1 153.1h0M435.5 127.7h0M432.6 136.7h0M447.3 125.0h0M435.4 135.4h0M429.0 135.4h0M430.1 148.1h0M416.9 151.5h0M442.2 131.0h0M430.1 143.6h0M442.2 136.5h0M445.5 116.3h0M447.6 126.5h0M439.5 140.1h0M423.4 138.9h0M435.5 129.2h0M424.9 133.7h0M426.7 149.1h0M442.1 131.0h0M427.7 145.2h0M425.4 141.7h0M431.8 148.5h0M443.1 117.1h0M435.7 114.9h0M419.0 140.7h0M429.3 150.5h0M432.5 145.7h0M446.6 130.5h0M437.7 112.1h0M434.5 127.0h0M439.4 117.2h0M423.9 146.1h0M438.9 121.3h0M432.6 141.1h0M436.6 135.1h0M432.8 110.1h0M417.1 150.3h0M432.7 126.1h0M428.4 130.5h0M437.3 114.4h0M436.5 118.5h0M442.9 116.1h0M432.6 149.4h0M436.9 131.7h0M415.7 150.9h0M431.2 130.4h0M425.5 141.0h0M433.0 125.4h0M439.5 126.6h0M420.6 144.4h0M441.7 125.6h0M442.9 135.6h0M430.4 150.4h0M424.2 143.7h0M445.9 123.8h0M435.4 130.9h0M432.1 147.3h0M427.4 137.8h0M421.8 147.3h0M424.5 140.3h0M428.5 136.4h0M423.6 148.5h0M420.5 143.6h0M421.7 141.6h0M433.0 136.7h0M445.9 127.6h0M447.3 121.6h0M429.2 150.0h0M439.6 135.8h0M443.2 128.7h0M440.9 121.2h0M431.6 147.4h0M444.8 134.6h0M428.3 147.9h0M441.0 128.6h0M432.7 110.4h0M439.8 124.2h0M429.2 150.0h0M416.9 144.9h0M426.8 152.1h0M431.6 135.2h0M424.3 145.0h0M417.1 152.3h0M445.3 125.2h0M428.5 137.4h0M434.6 116.0h0M444.3 132.3h0M431.6 125.7h0" stroke="#ffffff" stroke-width="0.9" stroke-linecap="round" fill="none" opacity="1.0"/>
<path d="M391,114.6 C392,120 393,126 396,130.5 C398.5,134 402,136.5 405.7,137.1" stroke="#d8322a" stroke-width="1.0" fill="none"/>
<path d="M389.2,113.7 C389.4,118 390,125 392.7,130.2" stroke="#d8322a" stroke-width="0.9" fill="none"/>
<ellipse cx="439.5" cy="147.2" rx="1.6" ry="2.2" fill="#cfd0a8"/>
<path d="M384.1 134.7h0M382.0 134.6h0M381.8 134.2h0M382.3 136.8h0" stroke="#c8cc88" stroke-width="0.8" stroke-linecap="round" fill="none" opacity="1.0"/>
<polygon points="392.5,159.5 395.5,160.0 396.4,164.0 396.6,169.0 396.2,174.0 395.3,177.5 393.0,175.0 390.5,171.5 388.0,168.5 386.6,166.0 388.5,164.5 391.0,164.0" fill="#17993c" opacity="0.85" stroke="#17993c" stroke-width="0.5" stroke-linejoin="round"/>
<path d="M394.6 170.6h0M396.2 166.6h0M395.3 162.5h0M392.0 168.8h0M396.0 170.2h0M396.0 164.8h0M391.8 163.8h0M395.2 175.6h0M395.4 164.3h0M390.7 171.7h0M392.6 160.0h0M388.3 165.9h0M394.5 174.7h0M394.1 162.1h0M389.9 167.1h0M391.5 165.7h0M387.0 166.5h0M388.7 167.7h0M387.8 166.2h0M394.0 168.1h0M392.8 167.3h0M388.2 166.5h0M392.3 170.1h0M390.8 169.6h0" stroke="#0c7a2a" stroke-width="0.9" stroke-linecap="round" fill="none" opacity="1.0"/>
<path d="M395.1 160.6h0M395.7 160.3h0M392.8 160.8h0M395.2 163.7h0M395.0 160.1h0M396.9 163.1h0M396.5 162.5h0M396.3 165.4h0M397.4 163.8h0M395.6 168.6h0M397.0 162.8h0M396.2 166.1h0M395.5 166.2h0M396.9 175.3h0M397.1 173.3h0M397.2 170.6h0M396.9 169.3h0M397.2 170.6h0M396.5 172.6h0M395.7 177.7h0M395.4 175.1h0M394.4 174.7h0M396.3 176.6h0M393.5 176.2h0M394.0 177.4h0M392.4 175.3h0M395.5 177.7h0M391.2 172.5h0M391.6 172.1h0M390.4 172.0h0M391.6 174.6h0M391.5 172.7h0M389.7 172.1h0M389.2 169.8h0M390.5 170.3h0M388.3 167.8h0M387.5 168.3h0M389.2 168.2h0M388.2 168.2h0M387.2 164.9h0M389.0 164.8h0M390.4 164.0h0M388.9 164.6h0M389.6 163.4h0M390.9 162.2h0M392.2 160.3h0M391.9 164.0h0M391.3 162.4h0M391.4 163.2h0" stroke="#0c7a2a" stroke-width="0.9" stroke-linecap="round" fill="none" opacity="1.0"/>
<path d="M392.4 169.3h0M395.2 163.8h0M393.1 167.2h0M396.2 172.2h0M396.0 170.5h0M394.4 161.7h0M394.2 175.6h0M388.4 167.6h0M395.2 171.8h0M394.4 160.5h0M392.5 168.9h0M392.5 169.5h0M394.5 173.5h0M388.8 166.1h0M396.1 172.4h0M389.7 167.0h0M392.9 173.2h0M390.1 164.5h0M390.4 165.2h0" stroke="#a8e0b0" stroke-width="0.7" stroke-linecap="round" fill="none" opacity="1.0"/>
<path d="M393.6,153.5 V159.5" stroke="#999" stroke-width="0.6"/>
<polygon points="422.5,191.0 425.0,189.0 429.0,189.5 432.0,188.0 435.0,186.3 439.5,186.8 440.0,188.8 436.0,190.0 432.0,191.5 428.0,192.6 424.0,192.8" fill="#139036" opacity="0.85" stroke="#139036" stroke-width="0.5" stroke-linejoin="round"/>
<path d="M428.5 191.9h0M432.3 188.2h0M428.7 190.8h0M436.7 187.0h0M432.0 189.5h0M435.8 187.8h0M434.0 189.8h0M427.4 191.6h0M428.4 192.1h0M424.9 191.9h0M434.9 188.2h0M438.5 187.1h0M425.4 192.0h0" stroke="#0a7a2a" stroke-width="0.9" stroke-linecap="round" fill="none" opacity="1.0"/>
<path d="M424.3 189.4h0M424.1 190.2h0M423.9 190.0h0M427.4 187.9h0M428.3 189.4h0M429.6 188.7h0M427.3 189.4h0M431.9 188.5h0M430.9 188.1h0M431.4 187.3h0M429.9 188.5h0M435.5 187.5h0M433.7 185.8h0M433.8 188.1h0M431.7 187.8h0M436.1 185.3h0M437.3 187.5h0M438.2 185.7h0M435.6 185.7h0M437.5 184.8h0M438.8 187.6h0M440.7 188.4h0M439.4 189.2h0M435.9 189.9h0M437.1 188.3h0M439.9 189.3h0M439.8 189.8h0M434.5 190.3h0M433.5 190.7h0M434.6 190.6h0M435.3 190.2h0M434.3 190.7h0M429.7 192.2h0M431.1 191.1h0M429.6 192.8h0M431.2 190.2h0M424.2 193.1h0M424.8 192.6h0M424.0 191.4h0M426.0 193.0h0M424.6 191.8h0M422.6 192.9h0" stroke="#0a7a2a" stroke-width="0.9" stroke-linecap="round" fill="none" opacity="1.0"/>
<path d="M428.6 189.8h0M438.0 189.3h0M432.7 188.7h0M433.7 188.0h0M436.7 189.0h0" stroke="#9ad8a8" stroke-width="0.7" stroke-linecap="round" fill="none" opacity="1.0"/>
<polygon points="435.5,219.5 438.0,219.0 442.0,220.8 447.0,222.0 451.5,224.3 451.5,226.8 447.0,226.5 442.0,224.8 437.0,222.5" fill="#4aa872" opacity="0.85" stroke="#4aa872" stroke-width="0.5" stroke-linejoin="round"/>
<path d="M443.0 222.4h0M442.8 223.7h0M437.1 220.6h0M440.6 222.7h0M446.4 225.5h0M445.1 222.5h0M444.3 222.5h0M444.3 224.4h0M445.0 222.6h0M440.5 221.3h0M445.6 224.4h0" stroke="#2f9058" stroke-width="0.9" stroke-linecap="round" fill="none" opacity="1.0"/>
<path d="M436.6 218.6h0M437.9 218.8h0M436.5 221.0h0M439.5 219.1h0M438.8 219.6h0M440.8 220.0h0M438.6 218.6h0M440.2 220.0h0M445.8 220.4h0M443.9 221.4h0M446.0 220.3h0M445.3 222.5h0M443.8 221.2h0M442.1 222.0h0M447.6 223.4h0M448.3 221.7h0M450.7 223.6h0M451.1 224.2h0M448.9 222.6h0M446.2 221.8h0M452.4 226.7h0M450.7 228.1h0M451.2 225.4h0M447.6 226.3h0M448.8 226.7h0M449.2 225.8h0M447.8 226.5h0M447.7 226.4h0M445.7 226.2h0M446.4 226.3h0M444.0 226.2h0M444.6 225.5h0M445.3 225.7h0M445.6 226.2h0M440.0 225.0h0M438.5 223.0h0M437.9 221.6h0M441.4 224.9h0M438.8 224.3h0M441.2 225.5h0M435.9 220.3h0M437.2 221.5h0M435.0 221.3h0M435.7 222.6h0" stroke="#2f9058" stroke-width="0.9" stroke-linecap="round" fill="none" opacity="1.0"/>
<path d="M444.2 224.1h0M438.1 219.3h0M446.9 222.8h0M438.0 220.5h0M449.0 226.5h0M447.2 224.2h0M437.0 220.2h0M443.4 224.3h0" stroke="#bfe6c8" stroke-width="0.7" stroke-linecap="round" fill="none" opacity="1.0"/>
<path d="M465.5,151.5 C464,153 465,155 467.5,155.5 C470,156 472,157.5 475,157.5 C478,157.5 479.5,155.8 482,156.5 C484.5,157.5 486,159.5 488.5,160 C490,160.3 491,161 491.5,162" stroke="#c470b8" stroke-width="1.9" fill="none" stroke-linecap="round"/>
<path d="M468,155.6 C471,157 473,158.8 476,158.6 M481,157.5 C484,158.5 486,160.5 489,161" stroke="#a84c9c" stroke-width="0.8" fill="none"/>
<path d="M353.6,172.7 C354,176 354.6,180 355.6,185.5" stroke="#f5e040" stroke-width="2" fill="none" opacity="0.8"/>
<path d="M354.1 172.7h0M355.0 173.3h0M355.3 173.9h0M355.2 174.6h0M353.2 175.2h0M355.5 175.8h0M355.3 176.4h0M355.6 177.0h0M353.4 177.7h0M355.4 178.3h0M354.3 178.9h0M356.0 179.5h0M354.1 180.1h0M355.2 180.8h0M355.4 181.4h0M355.3 182.0h0M356.6 182.6h0M354.8 183.2h0M355.6 183.9h0M356.6 184.5h0" stroke="#f2d800" stroke-width="0.9" stroke-linecap="round" fill="none" opacity="1.0"/>
<polygon points="356.4,185.0 362.0,186.0 366.0,187.0 371.0,188.5 369.0,191.0 368.2,193.5 366.5,197.0 365.4,199.5 366.5,203.0 368.2,206.0 366.0,208.0 359.0,207.8 354.0,205.5 350.3,203.7 350.3,199.0 352.2,192.4 355.0,188.0" fill="#f7dc10" opacity="0.85" stroke="#f7dc10" stroke-width="0.5" stroke-linejoin="round"/>
<path d="M367.6 188.9h0M368.0 205.8h0M358.6 193.0h0M353.7 204.0h0M352.3 202.6h0M361.7 193.1h0M366.3 197.0h0M361.5 201.5h0M353.9 201.4h0M356.5 199.6h0M359.4 200.5h0M353.3 203.1h0M363.5 197.9h0M357.0 192.4h0M355.8 202.8h0M358.4 187.6h0M358.7 192.4h0M357.8 193.3h0M356.8 192.2h0M355.2 195.9h0M353.8 198.5h0M359.0 195.2h0M364.3 203.2h0M351.6 204.1h0M365.4 189.9h0M362.5 190.0h0M363.6 191.4h0M363.9 201.7h0M353.9 201.7h0M354.8 204.1h0M369.2 190.3h0M360.1 207.1h0M358.1 202.6h0M366.3 189.3h0M364.0 191.6h0M366.0 196.4h0M364.6 195.6h0M352.5 202.9h0M361.6 186.3h0" stroke="#f0cc00" stroke-width="0.9" stroke-linecap="round" fill="none" opacity="1.0"/>
<path d="M358.6 184.7h0M357.0 185.2h0M357.0 185.2h0M359.3 184.3h0M361.7 183.5h0M357.3 184.9h0M362.5 185.6h0M361.9 187.9h0M362.9 185.5h0M364.0 187.7h0M364.9 188.0h0M368.3 187.0h0M369.8 188.8h0M366.9 185.5h0M366.5 186.9h0M365.8 186.3h0M370.2 191.4h0M368.8 189.6h0M370.3 190.1h0M369.3 191.2h0M370.1 191.3h0M368.0 192.5h0M368.9 194.6h0M367.6 193.7h0M367.3 195.6h0M366.8 196.4h0M366.2 197.9h0M365.8 199.2h0M366.2 198.3h0M365.2 201.3h0M367.1 201.9h0M366.2 199.6h0M365.1 201.2h0M366.8 204.4h0M367.4 203.8h0M367.9 204.6h0M367.6 204.1h0M367.0 207.0h0M368.0 207.1h0M365.7 206.8h0M360.8 208.6h0M361.5 207.5h0M361.2 207.5h0M360.6 206.1h0M362.5 208.5h0M363.3 208.5h0M362.4 207.1h0M366.8 207.4h0M354.3 206.8h0M355.6 206.2h0M355.2 204.3h0M355.0 206.5h0M354.1 206.0h0M355.7 205.9h0M353.4 203.7h0M352.7 205.6h0M354.2 204.7h0M352.3 205.1h0M351.6 199.2h0M350.5 202.9h0M350.4 201.1h0M351.0 203.5h0M349.7 199.3h0M350.3 196.6h0M350.5 195.0h0M351.3 194.8h0M350.3 195.7h0M350.3 196.2h0M352.5 193.1h0M351.8 193.7h0M351.3 195.3h0M354.4 190.2h0M353.9 188.0h0M353.8 189.2h0M353.4 189.4h0M353.1 190.0h0M353.4 190.4h0M356.0 188.0h0M358.4 185.7h0M356.5 186.7h0" stroke="#f0cc00" stroke-width="0.9" stroke-linecap="round" fill="none" opacity="1.0"/>
<path d="M358.4 191.5h0M367.2 206.1h0M364.0 188.1h0M363.1 203.6h0M365.3 190.2h0M359.3 185.9h0M355.6 199.4h0M357.3 201.4h0M356.9 187.2h0M352.6 200.3h0M357.6 194.9h0M365.8 190.2h0M356.8 191.6h0M360.1 188.0h0M364.8 199.3h0M360.3 186.3h0M356.5 190.8h0M363.6 202.8h0M358.9 198.9h0M367.7 193.0h0M364.8 186.8h0M365.2 191.7h0M354.3 193.9h0M366.9 196.2h0M358.4 206.1h0M355.2 205.1h0M358.7 193.0h0M365.5 198.7h0M357.1 194.1h0M358.6 207.2h0M353.2 195.5h0M359.7 205.0h0M364.1 203.2h0M359.5 191.8h0M353.2 203.8h0M364.9 196.8h0M366.0 198.2h0M361.3 191.3h0M358.5 187.7h0M351.1 200.3h0M368.7 188.5h0M359.9 199.6h0M365.9 189.9h0M358.1 195.1h0M370.4 188.8h0M355.7 198.9h0M358.6 186.9h0M357.5 187.0h0M363.8 203.2h0M351.9 194.2h0M362.6 207.1h0M354.5 202.6h0M356.5 202.8h0M359.0 196.9h0M364.9 196.9h0M353.9 193.9h0M363.3 193.7h0M351.4 204.2h0M360.0 189.4h0M352.0 195.2h0M356.8 191.7h0M352.0 195.9h0M356.7 201.6h0M352.6 196.2h0M353.4 192.4h0M353.5 202.1h0M359.6 200.9h0M368.4 189.0h0M364.4 200.0h0M355.0 205.5h0M370.4 189.2h0M360.0 187.0h0M362.8 190.0h0M352.9 193.4h0M353.1 200.6h0M354.9 204.1h0M359.1 206.7h0M361.3 201.7h0M361.1 194.2h0M356.4 196.5h0M360.9 194.3h0M357.7 203.8h0M354.0 191.5h0M355.7 194.9h0M359.3 199.3h0M358.9 207.0h0M362.8 190.8h0M368.6 190.8h0M356.8 195.1h0M363.0 192.0h0M369.3 189.6h0M361.1 200.9h0M358.9 203.0h0M363.5 190.7h0M359.0 197.6h0M368.7 187.8h0M361.4 187.6h0M358.0 194.4h0M355.6 188.4h0M355.5 194.5h0M357.3 196.6h0M363.2 193.1h0M358.3 186.0h0M362.2 188.9h0M354.8 196.0h0M363.6 196.0h0M361.3 199.0h0M354.5 188.9h0M364.7 198.4h0M358.5 201.5h0M353.1 194.4h0M364.4 196.5h0M362.3 198.0h0M359.4 199.5h0" stroke="#fdf6b8" stroke-width="0.8" stroke-linecap="round" fill="none" opacity="1.0"/>
<polygon points="329.5,201.6 336.9,200.1 341.4,203.8 347.4,206.1 353.4,208.3 357.8,212.8 360.8,218.7 360.1,224.7 356.3,229.2 348.9,230.7 339.9,229.2 334.0,223.2 331.7,215.8 330.2,208.3" fill="#f4a20c" opacity="0.85" stroke="#f4a20c" stroke-width="0.5" stroke-linejoin="round"/>
<path d="M336.9 218.4h0M331.4 208.5h0M345.2 227.4h0M349.0 226.0h0M341.1 221.9h0M359.6 224.4h0M334.3 211.7h0M348.1 222.4h0M352.8 226.3h0M355.7 226.7h0M347.2 220.7h0M338.3 224.5h0M340.2 208.9h0M340.2 225.3h0M348.3 220.8h0M352.9 219.2h0M331.8 203.5h0M356.9 217.6h0M336.3 223.3h0M357.8 223.4h0M338.7 204.2h0M334.6 213.8h0M333.7 214.1h0M342.4 209.4h0M336.8 211.6h0M351.1 211.5h0M347.4 210.8h0M354.1 220.4h0M339.6 222.4h0M338.8 214.7h0M343.6 217.4h0M339.3 221.7h0M332.5 214.1h0M343.5 210.9h0M345.7 209.2h0M334.5 218.9h0M342.3 226.3h0M337.2 211.3h0M337.6 210.2h0M336.8 207.4h0M354.9 213.9h0M347.2 220.3h0M353.9 212.1h0M352.1 210.6h0M352.1 219.6h0M330.1 205.9h0M347.7 221.5h0M332.6 204.8h0M335.0 218.8h0M345.3 216.6h0M349.5 224.6h0M341.2 217.5h0M337.9 203.1h0M347.6 211.6h0M335.5 218.2h0M333.1 211.2h0M340.6 215.8h0M348.7 230.2h0M359.1 220.9h0M334.6 220.8h0M334.5 217.8h0M339.5 204.8h0M334.4 203.0h0M342.0 206.8h0M346.0 222.6h0M358.7 220.7h0M339.2 208.1h0M343.1 209.0h0M346.9 213.6h0M356.8 223.9h0M348.7 229.3h0M356.5 227.8h0M353.7 228.0h0M352.9 227.3h0M347.9 229.1h0M350.8 218.0h0M355.4 216.9h0M351.1 207.7h0M335.4 203.5h0M341.2 224.0h0M350.2 224.7h0M338.4 209.8h0M357.5 225.3h0M339.7 225.3h0M359.0 217.8h0M349.5 223.2h0M337.8 223.1h0M354.6 217.7h0M344.2 211.6h0M349.3 218.1h0M356.4 220.0h0M347.5 226.1h0M348.1 221.3h0M342.0 204.6h0M352.1 222.4h0M354.9 210.0h0M345.1 228.4h0" stroke="#ec9200" stroke-width="0.9" stroke-linecap="round" fill="none" opacity="1.0"/>
<path d="M334.0 200.6h0M334.2 201.3h0M335.3 200.1h0M330.7 200.5h0M331.3 201.6h0M336.2 199.1h0M335.1 200.6h0M333.9 199.6h0M334.3 200.9h0M342.1 203.9h0M338.3 202.1h0M339.5 202.5h0M339.8 203.8h0M339.4 202.7h0M337.9 201.9h0M344.4 205.1h0M345.2 206.0h0M342.9 204.9h0M347.3 206.0h0M342.0 204.6h0M344.2 204.5h0M344.3 204.3h0M348.0 206.2h0M351.2 208.6h0M352.9 208.8h0M352.6 208.2h0M349.2 206.3h0M351.4 207.8h0M352.2 208.0h0M353.5 209.8h0M352.6 208.7h0M356.3 212.5h0M357.9 211.7h0M354.0 209.3h0M352.7 209.0h0M356.6 211.0h0M359.0 213.8h0M358.6 213.4h0M358.7 215.6h0M361.3 217.1h0M359.9 216.9h0M360.0 216.9h0M358.1 215.3h0M360.7 224.8h0M359.5 218.6h0M360.4 219.0h0M361.6 222.2h0M360.0 222.4h0M360.2 219.9h0M360.6 221.6h0M358.6 225.5h0M360.1 224.9h0M358.0 226.6h0M357.9 226.4h0M357.9 227.3h0M359.8 226.4h0M356.0 227.7h0M354.3 229.4h0M350.3 230.9h0M351.3 231.3h0M353.0 229.9h0M351.6 231.2h0M356.3 230.5h0M349.0 231.0h0M353.5 230.6h0M350.7 230.5h0M345.4 229.5h0M345.7 230.7h0M343.6 229.7h0M344.5 230.9h0M341.4 229.6h0M347.3 230.8h0M339.7 230.1h0M341.1 229.4h0M340.6 231.8h0M342.8 229.1h0M340.1 229.3h0M340.0 227.9h0M336.5 224.7h0M335.2 225.3h0M337.9 227.6h0M339.1 229.2h0M335.9 225.5h0M339.5 228.0h0M338.5 228.5h0M339.1 228.9h0M332.5 216.9h0M332.6 220.5h0M333.0 221.1h0M331.2 220.7h0M334.0 220.5h0M333.3 217.9h0M333.3 222.1h0M331.6 217.6h0M332.2 216.6h0M331.7 215.2h0M331.2 213.5h0M330.0 211.8h0M330.9 208.4h0M331.0 212.6h0M331.0 213.8h0M330.9 211.4h0M331.4 216.0h0M331.0 210.8h0M330.7 203.1h0M329.9 208.4h0M328.9 204.8h0M330.4 204.7h0M330.1 206.9h0M329.7 205.1h0M331.1 207.8h0M331.0 208.2h0" stroke="#ec9200" stroke-width="0.9" stroke-linecap="round" fill="none" opacity="1.0"/>
<path d="M356.3 224.8h0M355.3 222.8h0M341.3 227.3h0M341.1 229.0h0M346.6 211.2h0M335.2 218.2h0M355.7 220.0h0M359.1 221.3h0M350.2 227.7h0M337.9 205.2h0M352.0 222.1h0M341.4 212.4h0M341.2 220.6h0M349.0 230.2h0M337.2 203.0h0M335.1 223.7h0M335.9 220.9h0M338.2 220.5h0M337.0 217.6h0M336.8 203.5h0M348.6 224.6h0M340.7 220.7h0M356.1 217.8h0M340.6 208.5h0M350.3 226.5h0M342.0 229.5h0M336.3 221.2h0M348.2 222.5h0M349.0 226.2h0M337.5 221.2h0M348.4 228.7h0M356.2 225.0h0M335.6 214.0h0M340.8 219.6h0M353.8 229.0h0M349.3 221.9h0M332.4 208.7h0M349.3 229.2h0M345.0 212.0h0M348.2 228.5h0M353.5 216.0h0M336.4 200.3h0M343.3 225.2h0M332.4 201.3h0M354.2 224.7h0M352.7 210.5h0M351.1 221.8h0M351.6 218.3h0M358.6 223.6h0M342.2 216.9h0M359.3 217.0h0M331.1 207.5h0M344.3 211.1h0M337.2 224.9h0M354.2 215.6h0M350.3 211.5h0M347.9 222.2h0M356.2 217.0h0M334.2 207.5h0M360.5 220.3h0M357.7 226.0h0M336.5 217.3h0M339.6 205.4h0M354.9 229.5h0M338.5 201.9h0M349.9 216.0h0M332.7 206.6h0M333.8 217.7h0M353.0 216.0h0M337.4 216.2h0M341.3 213.6h0M349.7 223.9h0M359.1 224.4h0M358.4 223.3h0M354.2 215.1h0M349.7 224.6h0M358.8 219.5h0M341.8 217.8h0M343.4 215.7h0M344.8 223.8h0M337.8 206.0h0M344.7 213.4h0M348.5 228.6h0M359.3 216.3h0M338.7 202.0h0M337.5 207.5h0M342.3 216.5h0M357.7 225.0h0M348.7 215.4h0M351.7 219.1h0M335.6 207.4h0M357.3 221.0h0M340.2 222.8h0M333.5 201.5h0M346.0 227.4h0M345.3 230.0h0M334.8 205.6h0M337.8 212.4h0M335.1 223.7h0M334.7 222.6h0M356.6 219.2h0M345.8 216.6h0M335.5 209.8h0M341.8 223.6h0M339.5 226.6h0M330.7 203.8h0M353.6 226.5h0M352.4 215.5h0M342.6 214.2h0M343.0 222.8h0M343.0 214.8h0M343.7 214.0h0M337.4 208.7h0M329.9 205.1h0M349.0 212.5h0M331.3 207.3h0M340.0 214.7h0M339.9 212.9h0M339.5 202.7h0M349.7 225.0h0M337.5 217.9h0M354.5 219.9h0M357.9 216.2h0M337.8 209.8h0M347.0 206.4h0M344.7 215.7h0M356.8 225.1h0M337.8 204.8h0M331.0 201.4h0M335.1 222.7h0M348.3 209.0h0M357.1 216.6h0M357.0 223.1h0M336.5 209.0h0M348.1 212.6h0M342.0 211.0h0M354.9 212.1h0M343.2 205.8h0M330.8 209.1h0M351.3 227.4h0M350.2 221.1h0M352.5 213.3h0M354.2 220.1h0M336.3 219.0h0M352.1 212.5h0M351.4 217.5h0M347.4 221.9h0M356.4 224.4h0M340.1 220.5h0M351.2 219.6h0M337.8 214.1h0M342.3 226.9h0M334.8 203.8h0M345.3 225.9h0M350.6 216.5h0M356.1 220.2h0M350.6 208.5h0M347.7 208.1h0M352.6 222.3h0M342.1 212.1h0M352.8 212.6h0M340.5 211.6h0M353.9 228.7h0M333.1 218.1h0M340.7 206.1h0M345.5 230.0h0M331.2 206.9h0M340.2 208.0h0M346.2 207.8h0M345.6 214.8h0M355.0 226.3h0M346.2 208.2h0M345.1 216.2h0M340.1 222.8h0M332.2 211.0h0M350.5 212.1h0M340.0 222.1h0M344.4 218.0h0M334.4 211.9h0M330.5 209.0h0M349.5 215.9h0M342.0 206.2h0M330.9 210.1h0M349.0 216.1h0M332.0 203.9h0M349.5 209.2h0M353.5 213.1h0M356.7 218.8h0M339.5 227.3h0M332.7 204.8h0M344.5 215.6h0M346.2 223.8h0M338.8 207.9h0M337.2 215.7h0M338.0 220.7h0M335.0 201.0h0M337.2 203.8h0M337.6 216.1h0M341.8 226.2h0M343.7 228.3h0M350.8 219.6h0M335.8 206.1h0M355.1 212.4h0M335.1 217.1h0M337.6 219.2h0M333.4 207.5h0M358.5 222.1h0M346.1 221.7h0M335.6 214.1h0M338.7 219.3h0M356.1 217.8h0M349.4 224.4h0M350.7 223.4h0M338.2 206.9h0M344.8 216.8h0M345.9 216.4h0M336.6 218.0h0M335.0 203.5h0M346.0 206.3h0M357.7 214.6h0M346.2 206.9h0M330.4 202.1h0M355.7 218.3h0M344.2 229.9h0M342.9 208.5h0M339.5 218.5h0M337.6 207.7h0M347.3 225.8h0M342.6 209.4h0M348.2 214.5h0M346.4 217.7h0M348.2 226.8h0M334.1 209.6h0M349.5 214.0h0M334.0 217.5h0M340.9 218.8h0M335.8 203.2h0M350.9 228.2h0M346.3 218.4h0M357.0 223.9h0M348.5 206.8h0M356.8 218.9h0M345.1 216.1h0M338.4 215.0h0M349.3 218.2h0M342.8 217.2h0M336.0 212.3h0M347.3 220.8h0M331.2 209.1h0M347.3 230.2h0M346.8 209.2h0M352.8 215.4h0M337.7 201.5h0M336.5 207.0h0M340.8 221.6h0M352.0 213.8h0M342.5 221.6h0M337.1 206.4h0M348.7 226.9h0M338.8 205.5h0M339.0 218.4h0M352.3 212.7h0M333.9 209.6h0M332.4 204.1h0M343.5 220.9h0M351.9 221.4h0M341.5 210.7h0M350.0 216.2h0M336.2 219.6h0M345.7 226.3h0M346.5 225.6h0M349.4 209.7h0M346.4 214.3h0M345.1 225.2h0M349.0 208.4h0M355.0 212.2h0M345.2 220.7h0M351.4 222.6h0M337.4 206.6h0M349.0 229.8h0M336.7 223.5h0M339.9 227.5h0M353.0 208.7h0M340.8 223.0h0M337.5 210.9h0M343.1 215.1h0M340.5 217.0h0M342.4 225.8h0M346.8 211.0h0M340.7 225.7h0M347.7 209.5h0" stroke="#fff2d8" stroke-width="0.85" stroke-linecap="round" fill="none" opacity="1.0"/>
<polygon points="372.8,203.8 377.2,203.1 381.7,208.3 387.7,212.8 390.7,218.7 389.9,224.7 386.2,229.2 378.7,229.2 372.8,224.7 369.8,217.3 370.5,209.8" fill="#f5cc1c" opacity="0.85" stroke="#f5cc1c" stroke-width="0.5" stroke-linejoin="round"/>
<path d="M377.4 204.8h0M371.6 216.8h0M377.8 216.7h0M381.7 219.2h0M387.5 227.5h0M373.8 213.6h0M382.8 213.0h0M378.8 212.7h0M370.9 219.4h0M375.7 208.6h0M373.4 221.8h0M379.9 222.5h0M370.5 216.3h0M378.4 219.0h0M378.5 206.9h0M376.9 209.6h0M378.4 211.7h0M378.8 214.1h0M370.4 214.9h0M384.6 228.8h0M373.1 207.3h0M387.2 219.0h0M385.4 223.2h0M382.9 217.3h0M377.9 214.7h0M383.2 220.7h0M387.5 225.3h0M376.4 211.4h0M378.8 206.3h0M375.5 223.2h0M373.9 219.1h0M376.7 204.3h0M384.8 222.5h0M386.8 215.5h0M380.8 215.2h0M383.5 216.5h0M379.4 228.3h0M384.4 223.7h0M371.1 214.5h0M370.9 210.2h0M384.1 220.9h0M371.5 219.3h0M389.2 224.8h0M379.3 228.5h0M380.7 227.9h0" stroke="#eebf00" stroke-width="0.9" stroke-linecap="round" fill="none" opacity="1.0"/>
<path d="M374.7 202.9h0M375.7 203.2h0M374.7 204.1h0M378.2 203.4h0M373.4 202.9h0M380.4 203.6h0M377.7 204.2h0M378.5 204.0h0M381.6 208.2h0M378.8 206.9h0M379.3 205.4h0M379.0 205.3h0M380.8 206.7h0M384.2 208.3h0M385.1 210.4h0M383.7 211.0h0M384.0 210.6h0M387.5 212.7h0M385.9 210.4h0M382.4 208.7h0M384.0 210.2h0M387.2 210.2h0M388.6 214.0h0M390.2 216.4h0M390.3 217.5h0M387.6 214.7h0M388.0 213.7h0M390.8 217.0h0M387.9 214.5h0M390.2 222.2h0M390.4 218.4h0M390.0 219.8h0M390.2 219.0h0M390.6 220.0h0M390.3 218.9h0M390.1 222.1h0M389.4 227.7h0M387.9 227.8h0M389.1 227.3h0M388.0 228.6h0M386.7 227.6h0M386.0 228.2h0M380.6 229.1h0M380.9 227.7h0M379.7 228.9h0M380.9 229.5h0M384.2 228.5h0M381.5 230.2h0M382.9 228.0h0M385.5 228.9h0M383.3 229.4h0M373.9 224.9h0M375.7 227.6h0M373.9 226.7h0M376.5 227.8h0M372.3 225.2h0M376.7 226.7h0M376.0 225.8h0M376.3 225.8h0M370.9 218.8h0M373.1 222.6h0M371.7 218.1h0M373.1 223.7h0M370.5 219.3h0M370.8 221.1h0M370.1 216.4h0M371.7 226.2h0M370.3 217.2h0M370.7 213.9h0M370.1 212.9h0M369.7 215.6h0M369.9 211.4h0M368.4 211.6h0M370.8 212.8h0M369.6 216.8h0M369.4 215.0h0M370.6 213.9h0M369.8 207.8h0M371.0 209.1h0M371.7 209.6h0M370.5 206.9h0M372.9 204.7h0M370.4 205.7h0M372.0 205.2h0" stroke="#eebf00" stroke-width="0.9" stroke-linecap="round" fill="none" opacity="1.0"/>
<path d="M377.1 204.6h0M371.4 214.9h0M375.1 214.4h0M379.7 209.7h0M373.8 207.2h0M386.3 215.5h0M386.7 228.3h0M382.6 217.1h0M376.6 204.0h0M375.0 204.9h0M385.3 225.4h0M379.3 227.0h0M378.7 218.0h0M377.2 223.3h0M375.0 221.9h0M377.7 225.8h0M374.9 214.9h0M383.6 211.6h0M387.9 225.4h0M376.1 220.8h0M383.5 218.0h0M380.0 218.9h0M386.1 215.1h0M373.7 213.9h0M380.7 220.8h0M382.3 213.4h0M376.8 226.0h0M382.5 222.3h0M379.7 221.6h0M378.3 216.9h0M374.1 205.8h0M379.1 205.3h0M388.4 218.6h0M375.5 223.9h0M374.1 220.1h0M386.8 224.5h0M384.5 218.4h0M371.1 211.1h0M376.0 217.9h0M383.2 226.7h0M371.4 215.1h0M387.7 215.7h0M372.4 214.0h0M376.0 206.7h0M377.6 225.9h0M383.0 219.2h0M379.7 222.5h0M377.9 209.2h0M380.3 217.0h0M375.8 224.1h0M377.5 221.0h0M371.2 214.8h0M376.4 208.2h0M377.1 219.5h0M377.9 227.4h0M374.5 224.4h0M375.7 205.7h0M380.1 219.1h0M381.4 220.7h0M373.5 211.4h0M375.1 219.3h0M386.2 222.5h0M387.1 221.7h0M387.3 220.6h0M378.5 225.8h0M383.3 210.2h0M385.3 226.1h0M389.7 219.2h0M388.9 216.9h0M379.6 225.5h0M377.5 224.1h0M390.0 223.2h0M373.7 209.0h0M386.7 216.7h0M377.7 211.2h0M382.6 227.1h0M384.9 226.9h0M377.4 227.5h0M382.8 219.6h0M372.8 223.1h0M379.0 207.1h0M372.6 209.1h0M373.8 223.4h0M386.3 224.7h0M382.8 219.2h0M373.5 223.7h0M386.8 218.5h0M370.6 212.3h0M375.4 215.3h0M387.6 219.9h0M381.9 209.8h0M372.5 217.7h0M380.8 221.8h0M374.4 215.1h0M373.6 220.8h0M383.6 210.5h0M373.2 204.6h0M385.0 214.7h0M383.0 217.9h0M380.5 208.3h0M381.1 228.9h0M385.2 219.4h0M370.9 208.9h0M376.0 219.0h0M387.5 221.4h0M384.9 219.7h0M381.0 208.2h0M373.6 217.2h0M373.3 215.5h0M382.1 209.6h0M389.0 215.8h0M373.5 218.6h0M376.4 225.7h0M387.5 222.1h0M383.7 228.8h0M380.0 228.3h0M375.0 225.4h0M385.7 220.5h0M383.2 224.0h0M380.5 208.4h0M388.6 218.2h0M374.3 223.5h0M383.1 220.9h0M378.0 210.8h0M377.6 220.5h0M382.9 212.8h0M373.6 212.3h0M377.0 213.8h0M371.6 216.8h0M373.1 204.3h0M380.8 215.6h0M382.2 213.4h0M374.7 225.9h0M388.4 221.7h0M388.3 216.8h0M374.5 225.9h0M376.0 207.6h0M379.0 216.4h0M387.6 214.0h0M375.9 215.6h0M377.0 210.3h0M373.6 204.7h0M375.9 215.5h0M382.3 228.8h0M372.2 214.1h0M374.2 217.4h0M380.6 224.8h0M372.7 215.0h0M371.9 218.6h0M375.3 219.7h0M381.9 210.2h0M389.0 222.3h0M375.1 213.3h0M380.5 222.9h0M381.3 227.7h0M388.0 219.8h0M390.0 223.3h0M379.3 215.5h0M372.8 215.0h0M387.4 213.8h0M377.8 228.1h0M373.7 205.3h0M372.1 220.4h0M383.4 226.0h0M382.5 227.9h0M385.5 212.3h0M375.5 207.4h0M374.9 207.9h0M375.5 218.9h0M376.3 217.1h0M385.8 228.0h0" stroke="#fff8dc" stroke-width="0.85" stroke-linecap="round" fill="none" opacity="1.0"/>
<path d="M371.9 218.4h0M376.3 219.0h0M375.4 210.7h0M375.0 212.6h0M372.3 214.7h0M372.4 219.3h0M374.0 220.4h0M372.8 212.5h0M372.1 214.2h0M377.9 215.2h0M381.3 215.4h0M377.3 214.8h0M379.0 211.5h0M371.8 219.3h0M371.5 213.2h0M379.2 220.6h0M379.2 212.9h0M381.8 213.4h0M379.5 219.9h0M371.8 213.6h0M376.8 222.7h0M375.7 213.7h0M378.7 216.8h0M375.8 213.9h0M374.1 212.8h0M373.8 211.4h0M376.5 211.8h0M375.7 213.7h0M372.7 216.0h0M379.1 213.2h0M374.9 213.7h0M375.7 212.2h0M373.1 214.6h0M374.7 220.2h0M375.3 221.0h0M373.2 218.1h0M374.9 211.4h0M377.4 214.0h0M376.2 219.7h0M374.3 217.8h0M371.6 219.0h0M378.3 221.4h0M381.3 217.1h0M373.3 210.6h0M374.8 213.0h0M372.4 212.3h0M377.9 212.6h0M377.9 219.6h0M373.0 213.2h0M374.7 215.8h0M377.2 217.3h0M378.5 216.3h0M376.0 216.2h0M376.4 210.3h0M379.1 214.0h0M380.6 215.7h0M376.7 221.8h0M374.2 213.1h0M373.1 218.7h0M376.1 218.8h0M373.1 216.1h0M372.8 211.9h0M373.8 210.7h0M374.3 215.0h0M378.6 219.6h0M377.1 217.0h0M377.1 215.8h0M374.6 218.9h0M371.5 214.3h0M373.4 217.3h0" stroke="#ffffff" stroke-width="1.4" stroke-linecap="round" fill="none" opacity="1.0"/>
<path d="M311.5 185.8h0" stroke="#4a5a4a" stroke-width="1.1" stroke-linecap="round" fill="none" opacity="1.0"/>
<g stroke="#555" stroke-width="0.6" fill="none"><path d="M366.5,58.5 L369,56.8"/><path d="M440.5,215.5 H443.5"/><path d="M473.5,150.2 L477.5,151"/><path d="M348,57 L349.8,54"/></g>
<g fill="none" stroke="#45485a" stroke-width="0.95" stroke-dasharray="4.6,3.6" opacity="0.9">
<ellipse cx="351.5" cy="39.5" rx="5.2" ry="9" transform="rotate(12 351.5 39.5)"/>
<ellipse cx="344" cy="68" rx="8.5" ry="18" transform="rotate(8 344 68)"/>
<ellipse cx="365.3" cy="61.6" rx="3.8" ry="3.8" transform="rotate(0 365.3 61.6)"/>
<ellipse cx="339" cy="95" rx="9" ry="12" transform="rotate(15 339 95)"/>
<ellipse cx="317" cy="128" rx="17.5" ry="19" transform="rotate(0 317 128)"/>
<ellipse cx="338" cy="120" rx="10" ry="15" transform="rotate(-5 338 120)"/>
<ellipse cx="333" cy="143" rx="10.5" ry="10" transform="rotate(0 333 143)"/>
<ellipse cx="318" cy="153" rx="14" ry="10.5" transform="rotate(25 318 153)"/>
<ellipse cx="388" cy="99" rx="19" ry="15" transform="rotate(0 388 99)"/>
<ellipse cx="393.5" cy="125.5" rx="9.5" ry="14" transform="rotate(-15 393.5 125.5)"/>
<ellipse cx="416" cy="108" rx="17" ry="12" transform="rotate(10 416 108)"/>
<ellipse cx="437.5" cy="134" rx="15" ry="24.5" transform="rotate(20 437.5 134)"/>
<ellipse cx="391" cy="167.5" rx="7.5" ry="12" transform="rotate(-5 391 167.5)"/>
<ellipse cx="430.5" cy="189.5" rx="11.5" ry="6.3" transform="rotate(-12 430.5 189.5)"/>
<ellipse cx="443.5" cy="223.5" rx="10.5" ry="5.5" transform="rotate(15 443.5 223.5)"/>
<ellipse cx="478" cy="157" rx="15" ry="6.5" transform="rotate(15 478 157)"/>
<ellipse cx="359.5" cy="189" rx="14.5" ry="20" transform="rotate(0 359.5 189)"/>
<ellipse cx="344.5" cy="216.5" rx="17" ry="17" transform="rotate(0 344.5 216.5)"/>
<ellipse cx="381.5" cy="215" rx="12.5" ry="17.5" transform="rotate(0 381.5 215)"/>
</g>
<text x="360.4" y="38.199999999999996" font-size="6.3" text-anchor="start" fill="#262626" >Osteoblast2</text>
<text x="303.7" y="60.699999999999996" font-size="6.3" text-anchor="start" fill="#262626" >Osteoblast1</text>
<text x="369.3" y="59.1" font-size="6.3" text-anchor="start" fill="#262626" >Chrondocytes</text>
<text x="302.2" y="88.9" font-size="6.3" text-anchor="start" fill="#262626" >OsteoCAR</text>
<text x="394.3" y="82.10000000000001" font-size="6.3" text-anchor="start" fill="#262626" >RetiEry</text>
<text x="418.3" y="96.4" font-size="6.3" text-anchor="start" fill="#262626" >EryProgenitor1</text>
<text x="293" y="112.9" font-size="6.3" text-anchor="start" fill="#262626" >CAR1</text>
<text x="342.2" y="108.9" font-size="6.3" text-anchor="start" fill="#262626" >AdipoCAR</text>
<text x="361.3" y="122.60000000000001" font-size="6.3" text-anchor="start" fill="#262626" >EryProge-</text>
<text x="367" y="129.70000000000002" font-size="6.3" text-anchor="start" fill="#262626" >nitor3</text>
<text x="455.1" y="135.9" font-size="6.3" text-anchor="start" fill="#262626" >Ery/Mega Progenitor</text>
<text x="373.4" y="147.5" font-size="6.3" text-anchor="start" fill="#262626" >SchwannCells</text>
<text x="343.6" y="153.9" font-size="6.3" text-anchor="start" fill="#262626" >CAR2</text>
<text x="478.9" y="152.4" font-size="6.3" text-anchor="start" fill="#262626" >Neutrophils</text>
<text x="400" y="169.4" font-size="6.3" text-anchor="start" fill="#262626" >Skeletal muscle</text>
<text x="307.2" y="172.5" font-size="6.3" text-anchor="start" fill="#262626" >StemCAR</text>
<text x="311.4" y="194.1" font-size="6.3" text-anchor="start" fill="#262626" >Fibroblast3</text>
<text x="443.6" y="191.3" font-size="6.3" text-anchor="start" fill="#262626" >Smooth Muscle</text>
<text x="443.8" y="217.8" font-size="6.3" text-anchor="start" fill="#262626" >Myofibroblasts</text>
<text x="334.5" y="241.9" font-size="6.3" text-anchor="start" fill="#262626" >Fibroblast1</text>
<text x="391" y="233.0" font-size="6.3" text-anchor="start" fill="#262626" >Fibroblast 2</text>
<text x="406.3" y="124.4" font-size="6.3" text-anchor="start" fill="#5a2828" >EryProge-</text>
<text x="410.3" y="131.5" font-size="6.3" text-anchor="start" fill="#5a2828" >nitor2</text>
<rect x="153.8" y="274.15" width="33.30" height="5.7" fill="#d0d0d2"/>
<text x="86.3" y="279.1" font-size="6.5" text-anchor="end" fill="#2a2a2a" font-weight="normal" font-style="normal" textLength="29.28" lengthAdjust="spacingAndGlyphs">Stem CAR</text>
<rect x="153.8" y="281.12" width="28.10" height="5.7" fill="#b7b7dc"/>
<text x="86.3" y="286.07000000000005" font-size="6.5" text-anchor="end" fill="#2a2a2a" font-weight="normal" font-style="normal" textLength="16.54" lengthAdjust="spacingAndGlyphs">CAR1</text>
<rect x="146.2" y="288.09" width="7.60" height="5.7" fill="#9da3d6"/>
<text x="86.3" y="293.04" font-size="6.5" text-anchor="end" fill="#2a2a2a" font-weight="normal" font-style="normal" textLength="16.54" lengthAdjust="spacingAndGlyphs">CAR2</text>
<rect x="153.8" y="295.06" width="60.80" height="5.7" fill="#6672bd"/>
<text x="86.3" y="300.01000000000005" font-size="6.5" text-anchor="end" fill="#2a2a2a" font-weight="normal" font-style="normal" textLength="28.95" lengthAdjust="spacingAndGlyphs">AdipoCAR</text>
<rect x="153.8" y="302.03" width="16.00" height="5.7" fill="#3c5cb0"/>
<text x="86.3" y="306.98" font-size="6.5" text-anchor="end" fill="#2a2a2a" font-weight="normal" font-style="normal" textLength="29.63" lengthAdjust="spacingAndGlyphs">OsteoCAR</text>
<rect x="131.9" y="309.00" width="21.90" height="5.7" fill="#2b5fab"/>
<text x="86.3" y="313.95000000000005" font-size="6.5" text-anchor="end" fill="#2a2a2a" font-weight="normal" font-style="normal" textLength="29.64" lengthAdjust="spacingAndGlyphs">Osteoblast</text>
<rect x="132.5" y="315.97" width="21.30" height="5.7" fill="#1264b4"/>
<text x="86.3" y="320.92" font-size="6.5" text-anchor="end" fill="#2a2a2a" font-weight="normal" font-style="normal" textLength="33.09" lengthAdjust="spacingAndGlyphs">Osteoblast2</text>
<rect x="105" y="322.94" width="48.80" height="5.7" fill="#666666"/>
<text x="86.3" y="327.89000000000004" font-size="6.5" text-anchor="end" fill="#2a2a2a" font-weight="normal" font-style="normal" textLength="38.25" lengthAdjust="spacingAndGlyphs">Chrondocytes</text>
<rect x="134.3" y="329.91" width="19.50" height="5.7" fill="#f39a12"/>
<text x="86.3" y="334.86" font-size="6.5" text-anchor="end" fill="#2a2a2a" font-weight="normal" font-style="normal" textLength="30.67" lengthAdjust="spacingAndGlyphs">Fibroblast1</text>
<rect x="116.2" y="336.88" width="37.60" height="5.7" fill="#f7c00a"/>
<text x="86.3" y="341.83000000000004" font-size="6.5" text-anchor="end" fill="#2a2a2a" font-weight="normal" font-style="normal" textLength="30.67" lengthAdjust="spacingAndGlyphs">Fibroblast2</text>
<rect x="121.9" y="343.85" width="31.90" height="5.7" fill="#fae20a"/>
<text x="86.3" y="348.8" font-size="6.5" text-anchor="end" fill="#2a2a2a" font-weight="normal" font-style="normal" textLength="30.67" lengthAdjust="spacingAndGlyphs">Fibroblast3</text>
<rect x="136.2" y="350.82" width="17.60" height="5.7" fill="#1d9a45"/>
<text x="86.3" y="355.77000000000004" font-size="6.5" text-anchor="end" fill="#2a2a2a" font-weight="normal" font-style="normal" textLength="41.70" lengthAdjust="spacingAndGlyphs">SkeletalMuscle</text>
<rect x="153.8" y="357.79" width="4.70" height="5.7" fill="#3ea466"/>
<text x="86.3" y="362.74" font-size="6.5" text-anchor="end" fill="#2a2a2a" font-weight="normal" font-style="normal" textLength="41.01" lengthAdjust="spacingAndGlyphs">SmoothMuscle</text>
<rect x="153.8" y="364.76" width="4.70" height="5.7" fill="#46a672"/>
<text x="86.3" y="369.71000000000004" font-size="6.5" text-anchor="end" fill="#2a2a2a" font-weight="normal" font-style="normal" textLength="39.97" lengthAdjust="spacingAndGlyphs">Myofibroblasts</text>
<rect x="142.5" y="371.73" width="11.30" height="5.7" fill="#d6d6d8"/>
<text x="86.3" y="376.68" font-size="6.5" text-anchor="end" fill="#2a2a2a" font-weight="normal" font-style="normal" textLength="66.85" lengthAdjust="spacingAndGlyphs">ErythroidMegakaryocyte</text>
<rect x="149.6" y="378.70" width="4.20" height="5.7" fill="#f3a6ae"/>
<text x="86.3" y="383.65000000000003" font-size="6.5" text-anchor="end" fill="#2a2a2a" font-weight="normal" font-style="normal" textLength="41.35" lengthAdjust="spacingAndGlyphs">EryProgenitor2</text>
<rect x="118" y="385.67" width="35.80" height="5.7" fill="#e2282a"/>
<text x="86.3" y="390.62" font-size="6.5" text-anchor="end" fill="#2a2a2a" font-weight="normal" font-style="normal" textLength="41.35" lengthAdjust="spacingAndGlyphs">EryProgenitor3</text>
<rect x="153.8" y="392.64" width="16.60" height="5.7" fill="#e97474"/>
<text x="86.3" y="397.59000000000003" font-size="6.5" text-anchor="end" fill="#2a2a2a" font-weight="normal" font-style="normal" textLength="41.35" lengthAdjust="spacingAndGlyphs">EryProgenitor1</text>
<rect x="153.8" y="399.61" width="3.10" height="5.7" fill="#e0231f"/>
<text x="86.3" y="404.56" font-size="6.5" text-anchor="end" fill="#2a2a2a" font-weight="normal" font-style="normal" textLength="20.33" lengthAdjust="spacingAndGlyphs">RetiEry</text>
<rect x="135.2" y="406.58" width="18.60" height="5.7" fill="#c864b4"/>
<text x="86.3" y="411.53000000000003" font-size="6.5" text-anchor="end" fill="#2a2a2a" font-weight="normal" font-style="normal" textLength="31.36" lengthAdjust="spacingAndGlyphs">Neutrophils</text>
<rect x="150.2" y="413.55" width="3.60" height="5.7" fill="#d7dc8e"/>
<text x="86.3" y="418.5" font-size="6.5" text-anchor="end" fill="#2a2a2a" font-weight="normal" font-style="normal" textLength="39.29" lengthAdjust="spacingAndGlyphs">SchwannCells</text>
<g stroke="#222" stroke-width="1.1" fill="none">
<path d="M92.5,271 V425.7 H226"/>
<path d="M89,277.00 H92.5"/>
<path d="M89,283.97 H92.5"/>
<path d="M89,290.94 H92.5"/>
<path d="M89,297.91 H92.5"/>
<path d="M89,304.88 H92.5"/>
<path d="M89,311.85 H92.5"/>
<path d="M89,318.82 H92.5"/>
<path d="M89,325.79 H92.5"/>
<path d="M89,332.76 H92.5"/>
<path d="M89,339.73 H92.5"/>
<path d="M89,346.70 H92.5"/>
<path d="M89,353.67 H92.5"/>
<path d="M89,360.64 H92.5"/>
<path d="M89,367.61 H92.5"/>
<path d="M89,374.58 H92.5"/>
<path d="M89,381.55 H92.5"/>
<path d="M89,388.52 H92.5"/>
<path d="M89,395.49 H92.5"/>
<path d="M89,402.46 H92.5"/>
<path d="M89,409.43 H92.5"/>
<path d="M89,416.40 H92.5"/>
</g>
<g stroke="#222" stroke-width="1.1">
<path d="M117.6,425.7 V428.7"/>
<path d="M153.8,425.7 V428.7"/>
<path d="M186.9,425.7 V428.7"/>
<path d="M223.1,425.7 V428.7"/>
</g>
<text x="117.56450295207262" y="437.3" font-size="6.2" text-anchor="middle" fill="#2a2a2a" font-weight="normal" font-style="normal" >0.3</text>
<text x="153.8" y="437.3" font-size="6.2" text-anchor="middle" fill="#2a2a2a" font-weight="normal" font-style="normal" >1</text>
<text x="186.86450295207263" y="437.3" font-size="6.2" text-anchor="middle" fill="#2a2a2a" font-weight="normal" font-style="normal" >3</text>
<text x="223.10000000000002" y="437.3" font-size="6.2" text-anchor="middle" fill="#2a2a2a" font-weight="normal" font-style="normal" >10</text>
<text x="117.6" y="447.4" font-size="6.4" text-anchor="middle" fill="#2a2a2a" font-weight="normal" font-style="normal" >HY</text>
<text x="223.4" y="447.6" font-size="6.4" text-anchor="middle" fill="#2a2a2a" font-weight="normal" font-style="normal" >MDS</text>
<text x="145.8" y="460.2" font-size="9.2" fill="#1a1a1a" stroke="#1a1a1a" stroke-width="0.2" textLength="27" lengthAdjust="spacingAndGlyphs">Odds ratio</text>
<g stroke="#2a2a2a" stroke-width="1.4" fill="none">
<path d="M320.4,294 V403.8 H474.5"/>
<path d="M317.4,297.0 H320.4"/>
<path d="M317.4,321.2 H320.4"/>
<path d="M317.4,345.4 H320.4"/>
<path d="M317.4,369.6 H320.4"/>
<path d="M317.4,393.8 H320.4"/>
<path d="M326.9,403.8 V406.8"/>
<path d="M359.6,403.8 V406.8"/>
<path d="M392.2,403.8 V406.8"/>
<path d="M424.9,403.8 V406.8"/>
<path d="M457.6,403.8 V406.8"/>
</g>
<text x="313.5" y="299.1" font-size="5.9" text-anchor="end" fill="#2a2a2a" font-weight="normal" font-style="normal" >1.5</text>
<text x="313.5" y="323.30000000000007" font-size="5.9" text-anchor="end" fill="#2a2a2a" font-weight="normal" font-style="normal" >1.0</text>
<text x="313.5" y="347.50000000000006" font-size="5.9" text-anchor="end" fill="#2a2a2a" font-weight="normal" font-style="normal" >0.5</text>
<text x="313.5" y="371.70000000000005" font-size="5.9" text-anchor="end" fill="#2a2a2a" font-weight="normal" font-style="normal" >0.0</text>
<text x="313.5" y="395.90000000000003" font-size="5.9" text-anchor="end" fill="#2a2a2a" font-weight="normal" font-style="normal" >−0.5</text>
<text x="326.9" y="415.9" font-size="5.9" text-anchor="middle" fill="#2a2a2a" font-weight="normal" font-style="normal" >0</text>
<text x="359.575" y="415.9" font-size="5.9" text-anchor="middle" fill="#2a2a2a" font-weight="normal" font-style="normal" >5</text>
<text x="392.25" y="415.9" font-size="5.9" text-anchor="middle" fill="#2a2a2a" font-weight="normal" font-style="normal" >10</text>
<text x="424.92499999999995" y="415.9" font-size="5.9" text-anchor="middle" fill="#2a2a2a" font-weight="normal" font-style="normal" >15</text>
<text x="457.59999999999997" y="415.9" font-size="5.9" text-anchor="middle" fill="#2a2a2a" font-weight="normal" font-style="normal" >20</text>
<text x="375.6" y="428.1" font-size="7.6" fill="#1a1a1a" stroke="#1a1a1a" stroke-width="0.2" textLength="43.6" lengthAdjust="spacingAndGlyphs">CAR pseudotime</text>
<text transform="translate(296,348.8) rotate(-90)" font-size="7.6" text-anchor="middle" fill="#1a1a1a" stroke="#1a1a1a" stroke-width="0.2" textLength="61" lengthAdjust="spacingAndGlyphs">Hematopoiesis support</text>
<path d="M326.9,316.8 L327.6,317.4 L328.4,318.2 L329.5,319.1 L330.7,320.1 L331.9,321.1 L333.1,322.1 L334.3,323.0 L335.4,323.8 L336.4,324.5 L337.4,325.2 L338.3,325.8 L339.3,326.4 L340.2,327.0 L341.2,327.4 L342.1,327.7 L343.1,328.1 L344.1,328.4 L345.0,328.7 L346.0,329.0 L347.0,329.2 L347.9,329.3 L348.9,329.4 L349.9,329.4 L350.8,329.4 L351.8,329.3 L352.7,329.2 L353.7,329.0 L354.6,328.8 L355.6,328.5 L356.6,328.2 L357.5,327.9 L358.5,327.5 L359.4,327.0 L360.4,326.5 L361.3,325.9 L362.3,325.3 L363.2,324.7 L364.2,324.0 L365.2,323.4 L366.1,322.9 L367.1,322.4 L368.1,321.8 L369.1,321.3 L370.1,320.8 L371.1,320.3 L372.1,319.8 L373.0,319.4 L373.8,319.1 L374.5,318.8 L375.2,318.6 L375.7,318.4 L376.3,318.3 L376.8,318.2 L377.3,318.2 L377.9,318.1 L378.5,318.2 L379.2,318.2 L379.9,318.3 L380.7,318.4 L381.5,318.6 L382.3,318.8 L383.0,319.0 L383.8,319.2 L384.6,319.5 L385.4,319.8 L386.1,320.2 L386.9,320.6 L387.7,321.0 L388.5,321.5 L389.3,322.0 L390.0,322.5 L390.8,323.1 L391.6,323.7 L392.3,324.3 L393.1,325.0 L393.9,325.7 L394.6,326.5 L395.4,327.3 L396.1,328.1 L396.9,328.9 L397.6,329.8 L398.3,330.7 L399.1,331.6 L399.8,332.6 L400.5,333.6 L401.2,334.6 L401.9,335.6 L402.7,336.6 L403.5,337.6 L404.3,338.7 L405.1,339.7 L405.9,340.8 L406.8,341.9 L407.6,343.0 L408.4,344.1 L409.2,345.1 L410.0,346.1 L410.8,347.2 L411.6,348.2 L412.4,349.2 L413.2,350.1 L414.0,351.1 L414.8,352.1 L415.6,353.0 L416.4,353.9 L417.2,354.9 L418.0,355.8 L418.8,356.7 L419.6,357.6 L420.4,358.5 L421.2,359.3 L422.0,360.1 L422.8,360.9 L423.6,361.7 L424.4,362.4 L425.2,363.1 L426.0,363.7 L426.8,364.4 L427.6,365.0 L428.4,365.7 L429.2,366.3 L430.0,366.9 L430.8,367.5 L431.6,368.1 L432.3,368.6 L433.1,369.2 L433.9,369.7 L434.7,370.2 L435.5,370.7 L436.3,371.2 L437.1,371.7 L438.0,372.1 L438.8,372.5 L439.6,372.9 L440.4,373.4 L441.2,373.8 L442.0,374.1 L442.8,374.4 L443.6,374.7 L444.4,375.0 L445.2,375.3 L446.0,375.5 L446.8,375.8 L447.6,376.1 L448.4,376.3 L449.2,376.6 L450.0,376.8 L450.8,377.1 L451.6,377.3 L452.4,377.5 L453.2,377.7 L454.0,377.9 L454.8,378.2 L455.6,378.4 L456.4,378.6 L457.1,378.8 L457.9,379.0 L458.7,379.2 L459.6,379.4 L460.4,379.7 L461.3,379.9 L462.4,380.2 L463.4,380.5 L464.5,380.8 L465.5,381.0 L466.4,381.3 L467.2,381.5 L467.8,381.6 L467.8,388.2 L467.2,388.0 L466.4,387.7 L465.5,387.4 L464.5,387.1 L463.4,386.7 L462.4,386.3 L461.3,386.0 L460.4,385.7 L459.6,385.4 L458.7,385.1 L457.9,384.8 L457.1,384.5 L456.4,384.2 L455.6,383.9 L454.8,383.6 L454.0,383.2 L453.2,382.9 L452.4,382.6 L451.6,382.2 L450.8,381.9 L450.0,381.6 L449.2,381.2 L448.4,380.9 L447.6,380.6 L446.8,380.2 L446.0,379.9 L445.2,379.5 L444.4,379.2 L443.6,378.8 L442.8,378.4 L442.0,378.0 L441.2,377.6 L440.4,377.3 L439.6,377.0 L438.8,376.7 L438.0,376.3 L437.1,375.9 L436.3,375.6 L435.5,375.2 L434.7,374.8 L433.9,374.3 L433.1,373.9 L432.3,373.4 L431.6,372.9 L430.8,372.4 L430.0,371.8 L429.2,371.3 L428.4,370.7 L427.6,370.2 L426.8,369.6 L426.0,369.0 L425.2,368.4 L424.4,367.8 L423.6,367.1 L422.8,366.4 L422.0,365.7 L421.2,364.9 L420.4,364.1 L419.6,363.3 L418.8,362.5 L418.0,361.6 L417.2,360.7 L416.4,359.7 L415.6,358.8 L414.8,357.9 L414.0,356.9 L413.2,355.9 L412.4,355.0 L411.6,354.0 L410.8,353.0 L410.0,351.9 L409.2,350.9 L408.4,349.9 L407.6,348.8 L406.8,347.7 L405.9,346.6 L405.1,345.5 L404.3,344.4 L403.5,343.3 L402.7,342.2 L401.9,341.1 L401.2,340.1 L400.5,339.0 L399.8,338.0 L399.1,337.0 L398.3,336.0 L397.6,335.0 L396.9,334.1 L396.1,333.2 L395.4,332.3 L394.6,331.5 L393.9,330.7 L393.1,329.9 L392.3,329.2 L391.6,328.4 L390.8,327.8 L390.0,327.1 L389.3,326.5 L388.5,325.9 L387.7,325.4 L386.9,324.9 L386.1,324.4 L385.4,324.0 L384.6,323.6 L383.8,323.2 L383.0,322.9 L382.3,322.6 L381.5,322.4 L380.7,322.2 L379.9,322.0 L379.2,321.9 L378.5,321.8 L377.9,321.8 L377.3,321.8 L376.8,321.8 L376.3,321.9 L375.7,322.0 L375.2,322.1 L374.5,322.3 L373.8,322.5 L373.0,322.8 L372.1,323.2 L371.1,323.7 L370.1,324.2 L369.1,324.7 L368.1,325.2 L367.1,325.8 L366.1,326.3 L365.2,326.8 L364.2,327.4 L363.2,328.1 L362.3,328.7 L361.3,329.3 L360.4,329.9 L359.4,330.4 L358.5,330.9 L357.5,331.3 L356.6,331.7 L355.6,332.0 L354.6,332.3 L353.7,332.6 L352.7,332.8 L351.8,333.0 L350.8,333.1 L349.9,333.1 L348.9,333.1 L347.9,333.1 L347.0,333.0 L346.0,333.0 L345.0,332.9 L344.1,332.8 L343.1,332.7 L342.1,332.6 L341.2,332.4 L340.2,332.2 L339.3,332.1 L338.3,332.0 L337.4,331.9 L336.4,331.7 L335.4,331.5 L334.3,331.3 L333.1,331.0 L331.9,330.7 L330.7,330.4 L329.5,330.1 L328.4,329.8 L327.6,329.6 L326.9,329.4Z" fill="#d6d6ee" opacity="0.85"/>
<path d="M326.9,323.1 L327.6,323.5 L328.4,324.0 L329.5,324.6 L330.7,325.2 L331.9,325.9 L333.1,326.6 L334.3,327.2 L335.4,327.7 L336.4,328.1 L337.4,328.5 L338.3,328.9 L339.3,329.3 L340.2,329.6 L341.2,329.9 L342.1,330.2 L343.1,330.4 L344.1,330.6 L345.0,330.8 L346.0,331.0 L347.0,331.1 L347.9,331.2 L348.9,331.3 L349.9,331.3 L350.8,331.2 L351.8,331.1 L352.7,331.0 L353.7,330.8 L354.6,330.5 L355.6,330.3 L356.6,329.9 L357.5,329.6 L358.5,329.2 L359.4,328.7 L360.4,328.2 L361.3,327.6 L362.3,327.0 L363.2,326.4 L364.2,325.7 L365.2,325.1 L366.1,324.6 L367.1,324.1 L368.1,323.5 L369.1,323.0 L370.1,322.5 L371.1,322.0 L372.1,321.5 L373.0,321.1 L373.8,320.8 L374.5,320.6 L375.2,320.3 L375.7,320.2 L376.3,320.1 L376.8,320.0 L377.3,320.0 L377.9,320.0 L378.5,320.0 L379.2,320.1 L379.9,320.2 L380.7,320.3 L381.5,320.5 L382.3,320.7 L383.0,320.9 L383.8,321.2 L384.6,321.5 L385.4,321.9 L386.1,322.3 L386.9,322.7 L387.7,323.2 L388.5,323.7 L389.3,324.2 L390.0,324.8 L390.8,325.4 L391.6,326.1 L392.3,326.7 L393.1,327.5 L393.9,328.2 L394.6,329.0 L395.4,329.8 L396.1,330.6 L396.9,331.5 L397.6,332.4 L398.3,333.3 L399.1,334.3 L399.8,335.3 L400.5,336.3 L401.2,337.3 L401.9,338.4 L402.7,339.4 L403.5,340.4 L404.3,341.5 L405.1,342.6 L405.9,343.7 L406.8,344.8 L407.6,345.9 L408.4,347.0 L409.2,348.0 L410.0,349.0 L410.8,350.1 L411.6,351.1 L412.4,352.1 L413.2,353.0 L414.0,354.0 L414.8,355.0 L415.6,355.9 L416.4,356.8 L417.2,357.8 L418.0,358.7 L418.8,359.6 L419.6,360.5 L420.4,361.3 L421.2,362.1 L422.0,362.9 L422.8,363.7 L423.6,364.4 L424.4,365.1 L425.2,365.7 L426.0,366.4 L426.8,367.0 L427.6,367.6 L428.4,368.2 L429.2,368.8 L430.0,369.4 L430.8,369.9 L431.6,370.5 L432.3,371.0 L433.1,371.5 L433.9,372.0 L434.7,372.5 L435.5,373.0 L436.3,373.4 L437.1,373.8 L438.0,374.2 L438.8,374.6 L439.6,375.0 L440.4,375.3 L441.2,375.7 L442.0,376.1 L442.8,376.4 L443.6,376.7 L444.4,377.1 L445.2,377.4 L446.0,377.7 L446.8,378.0 L447.6,378.3 L448.4,378.6 L449.2,378.9 L450.0,379.2 L450.8,379.5 L451.6,379.8 L452.4,380.0 L453.2,380.3 L454.0,380.6 L454.8,380.9 L455.6,381.1 L456.4,381.4 L457.1,381.6 L457.9,381.9 L458.7,382.1 L459.6,382.4 L460.4,382.7 L461.3,383.0 L462.4,383.3 L463.4,383.6 L464.5,383.9 L465.5,384.2 L466.4,384.5 L467.2,384.7 L467.8,384.9" fill="none" stroke="#6a6aae" stroke-width="1.1"/>
<path d="M326.9,316.2 L327.3,316.1 L327.8,315.8 L328.4,315.6 L329.1,315.3 L329.9,315.0 L330.7,314.8 L331.5,314.5 L332.3,314.3 L333.2,314.1 L334.1,313.9 L335.0,313.7 L336.0,313.6 L337.0,313.4 L338.0,313.3 L339.0,313.2 L340.0,313.1 L340.9,313.1 L341.9,313.0 L342.9,313.0 L343.8,313.0 L344.8,313.0 L345.8,313.0 L346.7,313.1 L347.7,313.1 L348.6,313.2 L349.6,313.3 L350.6,313.4 L351.5,313.5 L352.5,313.6 L353.4,313.7 L354.4,313.8 L355.3,313.8 L356.3,313.8 L357.3,313.8 L358.4,313.8 L359.4,313.8 L360.4,313.7 L361.4,313.7 L362.3,313.6 L363.0,313.5 L363.7,313.4 L364.3,313.3 L364.8,313.2 L365.2,313.1 L365.6,313.0 L366.0,312.8 L366.4,312.6 L366.9,312.3 L367.4,311.9 L367.9,311.4 L368.4,310.9 L368.9,310.3 L369.4,309.7 L369.9,309.2 L370.3,308.7 L370.7,308.4 L371.1,308.2 L371.4,308.0 L371.7,307.9 L372.0,307.9 L372.2,307.9 L372.5,308.0 L372.8,308.0 L373.1,308.1 L373.4,308.3 L373.8,308.5 L374.2,308.9 L374.5,309.2 L374.9,309.5 L375.3,309.7 L375.7,309.8 L376.2,309.7 L376.6,309.5 L377.1,309.1 L377.6,308.5 L378.1,307.9 L378.6,307.3 L379.1,306.6 L379.5,306.0 L380.0,305.4 L380.5,304.9 L381.0,304.4 L381.5,303.8 L382.0,303.3 L382.5,302.8 L382.9,302.3 L383.4,301.9 L383.8,301.5 L384.2,301.2 L384.6,300.9 L385.0,300.6 L385.3,300.4 L385.7,300.2 L386.1,300.1 L386.5,300.0 L386.9,300.0 L387.3,300.1 L387.8,300.2 L388.3,300.5 L388.8,300.7 L389.3,301.1 L389.8,301.4 L390.3,301.9 L390.8,302.3 L391.4,302.8 L391.9,303.4 L392.5,304.1 L393.1,304.8 L393.7,305.5 L394.3,306.2 L394.8,307.0 L395.4,307.7 L395.9,308.4 L396.3,309.0 L396.7,309.6 L397.1,310.2 L397.5,310.9 L398.0,311.7 L398.6,312.7 L399.2,313.8 L400.0,315.2 L400.9,316.8 L401.9,318.5 L402.9,320.4 L403.9,322.3 L405.0,324.2 L406.0,326.0 L407.1,327.7 L408.1,329.3 L409.2,330.8 L410.2,332.3 L411.3,333.7 L412.4,335.2 L413.4,336.6 L414.5,338.0 L415.6,339.4 L416.6,340.8 L417.7,342.2 L418.8,343.5 L419.8,344.9 L420.9,346.2 L422.0,347.5 L423.0,348.8 L424.1,350.1 L425.1,351.4 L426.2,352.6 L427.3,353.8 L428.3,355.0 L429.4,356.2 L430.4,357.4 L431.5,358.5 L432.6,359.7 L433.6,360.8 L434.7,361.9 L435.8,363.0 L436.9,364.1 L438.0,365.1 L439.0,366.2 L440.1,367.2 L441.2,368.2 L442.3,369.2 L443.4,370.2 L444.5,371.1 L445.6,372.1 L446.7,373.0 L447.7,373.9 L448.7,374.8 L449.7,375.7 L450.6,376.6 L451.4,377.4 L452.2,378.2 L453.0,379.0 L453.8,379.7 L454.5,380.5 L455.3,381.3 L456.1,382.1 L456.9,382.9 L457.7,383.7 L458.5,384.5 L459.4,385.3 L460.2,386.2 L461.0,387.0 L461.8,387.7 L462.5,388.5 L463.3,389.2 L464.0,390.0 L464.8,390.8 L465.5,391.5 L466.2,392.2 L466.9,392.9 L467.4,393.4 L467.8,393.8" fill="none" stroke="#a8581c" stroke-width="1.1"/>
<circle cx="486.4" cy="338.5" r="2.3" fill="#8784c0"/><circle cx="486.4" cy="347.8" r="2.3" fill="#96581e"/>
<text x="491.8" y="340.9" font-size="6.5" text-anchor="start" fill="#2a2a2a" font-weight="normal" font-style="normal" textLength="8.75" lengthAdjust="spacingAndGlyphs">HY</text>
<text x="491.8" y="350.1" font-size="6.5" text-anchor="start" fill="#2a2a2a" font-weight="normal" font-style="normal" textLength="15" lengthAdjust="spacingAndGlyphs">MDS</text>
</svg>
</body></html>
